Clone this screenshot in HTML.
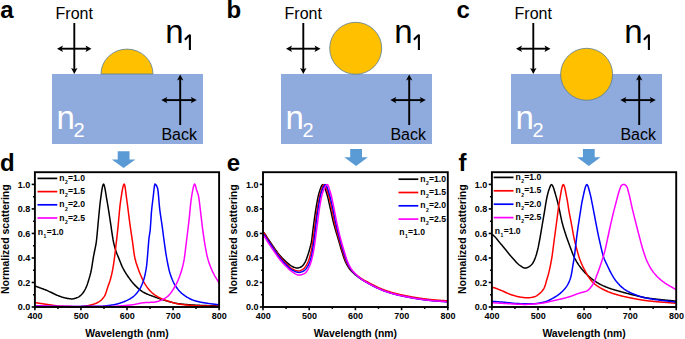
<!DOCTYPE html>
<html><head><meta charset="utf-8"><style>
html,body{margin:0;padding:0;background:#fff;}
svg{display:block;font-family:"Liberation Sans",sans-serif;}
</style></head><body>
<svg width="685" height="339" viewBox="0 0 685 339">
<rect width="685" height="339" fill="#fff"/>
<rect x="52.00" y="74" width="151" height="70" fill="#8FAADC"/><path d="M101.00,74 A26,24.9 0 0 1 153.00,74 Z" fill="#FFC000" stroke="#52789a" stroke-width="0.75"/><text x="55.60" y="18.6" font-size="16" fill="#000">Front</text><line x1="74.30" y1="23.00" x2="74.30" y2="69.80" stroke="#000" stroke-width="1.90"/><polygon points="74.30,74.00 71.10,68.00 74.30,69.32 77.50,68.00" fill="#000"/><line x1="61.20" y1="48.70" x2="87.30" y2="48.70" stroke="#000" stroke-width="1.90"/><polygon points="91.50,48.70 85.50,51.90 86.82,48.70 85.50,45.50" fill="#000"/><polygon points="57.00,48.70 63.00,51.90 61.68,48.70 63.00,45.50" fill="#000"/><line x1="180.20" y1="125.00" x2="180.20" y2="78.60" stroke="#000" stroke-width="1.90"/><polygon points="180.20,74.40 183.40,80.40 180.20,79.08 177.00,80.40" fill="#000"/><line x1="165.50" y1="100.10" x2="192.60" y2="100.10" stroke="#000" stroke-width="1.90"/><polygon points="196.80,100.10 190.80,103.30 192.12,100.10 190.80,96.90" fill="#000"/><polygon points="161.30,100.10 167.30,103.30 165.98,100.10 167.30,96.90" fill="#000"/><text x="161.40" y="139.6" font-size="16" fill="#000">Back</text><text x="165.30" y="42.7" font-size="33" fill="#000">n</text><path d="M184.90,39.8 L188.60,35.9 L189.90,35.3 L189.90,49.9" fill="none" stroke="#000" stroke-width="2.1" stroke-linejoin="round"/><text x="56.60" y="129.4" font-size="33" fill="#fff">n</text><text x="73.50" y="137" font-size="20" fill="#fff">2</text><rect x="281.00" y="74" width="151" height="70" fill="#8FAADC"/><circle cx="355.70" cy="48.3" r="26" fill="#FFC000" stroke="#52789a" stroke-width="0.75"/><text x="284.60" y="18.6" font-size="16" fill="#000">Front</text><line x1="303.30" y1="23.00" x2="303.30" y2="69.80" stroke="#000" stroke-width="1.90"/><polygon points="303.30,74.00 300.10,68.00 303.30,69.32 306.50,68.00" fill="#000"/><line x1="290.20" y1="48.70" x2="316.30" y2="48.70" stroke="#000" stroke-width="1.90"/><polygon points="320.50,48.70 314.50,51.90 315.82,48.70 314.50,45.50" fill="#000"/><polygon points="286.00,48.70 292.00,51.90 290.68,48.70 292.00,45.50" fill="#000"/><line x1="409.20" y1="125.00" x2="409.20" y2="78.60" stroke="#000" stroke-width="1.90"/><polygon points="409.20,74.40 412.40,80.40 409.20,79.08 406.00,80.40" fill="#000"/><line x1="394.50" y1="100.10" x2="421.60" y2="100.10" stroke="#000" stroke-width="1.90"/><polygon points="425.80,100.10 419.80,103.30 421.12,100.10 419.80,96.90" fill="#000"/><polygon points="390.30,100.10 396.30,103.30 394.98,100.10 396.30,96.90" fill="#000"/><text x="390.40" y="139.6" font-size="16" fill="#000">Back</text><text x="394.30" y="42.7" font-size="33" fill="#000">n</text><path d="M413.90,39.8 L417.60,35.9 L418.90,35.3 L418.90,49.9" fill="none" stroke="#000" stroke-width="2.1" stroke-linejoin="round"/><text x="285.60" y="129.4" font-size="33" fill="#fff">n</text><text x="302.50" y="137" font-size="20" fill="#fff">2</text><rect x="511.00" y="74" width="151" height="70" fill="#8FAADC"/><circle cx="586.60" cy="74.3" r="26" fill="#FFC000" stroke="#52789a" stroke-width="0.75"/><text x="514.60" y="18.6" font-size="16" fill="#000">Front</text><line x1="533.30" y1="23.00" x2="533.30" y2="69.80" stroke="#000" stroke-width="1.90"/><polygon points="533.30,74.00 530.10,68.00 533.30,69.32 536.50,68.00" fill="#000"/><line x1="520.20" y1="48.70" x2="546.30" y2="48.70" stroke="#000" stroke-width="1.90"/><polygon points="550.50,48.70 544.50,51.90 545.82,48.70 544.50,45.50" fill="#000"/><polygon points="516.00,48.70 522.00,51.90 520.68,48.70 522.00,45.50" fill="#000"/><line x1="639.20" y1="125.00" x2="639.20" y2="78.60" stroke="#000" stroke-width="1.90"/><polygon points="639.20,74.40 642.40,80.40 639.20,79.08 636.00,80.40" fill="#000"/><line x1="624.50" y1="100.10" x2="651.60" y2="100.10" stroke="#000" stroke-width="1.90"/><polygon points="655.80,100.10 649.80,103.30 651.12,100.10 649.80,96.90" fill="#000"/><polygon points="620.30,100.10 626.30,103.30 624.98,100.10 626.30,96.90" fill="#000"/><text x="620.40" y="139.6" font-size="16" fill="#000">Back</text><text x="624.30" y="42.7" font-size="33" fill="#000">n</text><path d="M643.90,39.8 L647.60,35.9 L648.90,35.3 L648.90,49.9" fill="none" stroke="#000" stroke-width="2.1" stroke-linejoin="round"/><text x="515.60" y="129.4" font-size="33" fill="#fff">n</text><text x="532.50" y="137" font-size="20" fill="#fff">2</text><polygon points="117.70,151.20 129.50,151.20 129.50,159.40 135.40,159.40 123.60,168.10 111.80,159.40 117.70,159.40" fill="#5B9BD5"/><polygon points="350.20,149.10 362.00,149.10 362.00,157.30 367.90,157.30 356.10,166.00 344.30,157.30 350.20,157.30" fill="#5B9BD5"/><polygon points="582.90,149.10 594.70,149.10 594.70,157.30 600.60,157.30 588.80,166.00 577.00,157.30 582.90,157.30" fill="#5B9BD5"/><clipPath id="c34"><rect x="34.90" y="172.20" width="184.20" height="135.80"/></clipPath><g clip-path="url(#c34)" fill="none" stroke-width="1.5" stroke-linejoin="round"><path d="M35.00,286.00 L35.51,286.19 L36.03,286.38 L36.54,286.57 L37.05,286.75 L37.57,286.94 L38.08,287.12 L38.60,287.31 L39.11,287.49 L39.62,287.68 L40.14,287.86 L40.65,288.05 L41.16,288.24 L41.68,288.42 L42.19,288.61 L42.70,288.80 L43.22,289.00 L43.73,289.19 L44.25,289.39 L44.76,289.59 L45.27,289.79 L45.79,289.99 L46.30,290.20 L46.81,290.41 L47.32,290.63 L47.82,290.85 L48.33,291.08 L48.84,291.32 L49.35,291.56 L49.85,291.80 L50.36,292.05 L50.87,292.29 L51.38,292.54 L51.88,292.79 L52.39,293.04 L52.90,293.29 L53.41,293.54 L53.92,293.79 L54.42,294.04 L54.93,294.28 L55.44,294.52 L55.95,294.75 L56.45,294.98 L56.96,295.20 L57.47,295.42 L57.98,295.62 L58.48,295.82 L58.99,296.02 L59.50,296.20 L60.03,296.39 L60.57,296.57 L61.10,296.76 L61.63,296.94 L62.17,297.11 L62.70,297.28 L63.23,297.44 L63.77,297.60 L64.30,297.74 L64.83,297.87 L65.37,297.99 L65.90,298.10 L66.44,298.20 L66.97,298.30 L67.51,298.40 L68.05,298.50 L68.58,298.59 L69.12,298.68 L69.65,298.75 L70.19,298.81 L70.73,298.86 L71.26,298.89 L71.80,298.90 L72.34,298.88 L72.87,298.83 L73.41,298.75 L73.95,298.65 L74.48,298.51 L75.02,298.36 L75.55,298.19 L76.09,298.01 L76.63,297.81 L77.16,297.61 L77.70,297.40 L78.22,297.16 L78.74,296.87 L79.27,296.52 L79.79,296.13 L80.31,295.69 L80.83,295.21 L81.36,294.70 L81.88,294.16 L82.40,293.60 L82.91,292.99 L83.43,292.30 L83.94,291.52 L84.46,290.67 L84.97,289.74 L85.49,288.75 L86.00,287.70 L86.58,286.36 L87.16,284.82 L87.74,283.12 L88.32,281.30 L88.90,279.40 L89.50,277.35 L90.10,275.15 L90.70,272.72 L91.30,270.00 L91.83,267.11 L92.35,263.74 L92.88,260.27 L93.40,257.10 L94.10,253.49 L94.80,250.00 L95.30,247.54 L95.80,245.04 L96.30,242.00 L96.80,237.76 L97.30,232.44 L97.80,226.72 L98.30,221.30 L98.83,215.80 L99.35,210.21 L99.88,205.01 L100.40,200.70 L100.92,196.94 L101.43,193.15 L101.95,189.66 L102.47,186.78 L102.98,184.82 L103.50,184.10 L104.00,184.69 L104.50,186.29 L105.00,188.65 L105.50,191.52 L106.00,194.66 L106.50,197.80 L107.00,200.70 L107.55,203.80 L108.10,207.13 L108.65,210.61 L109.20,214.17 L109.75,217.76 L110.30,221.30 L110.83,224.84 L111.37,228.56 L111.90,232.31 L112.43,235.91 L112.97,239.19 L113.50,242.00 L114.03,244.33 L114.55,246.42 L115.07,248.29 L115.60,250.00 L116.17,251.69 L116.73,253.23 L117.30,254.67 L117.87,256.05 L118.43,257.41 L119.00,258.80 L119.53,260.13 L120.06,261.48 L120.59,262.82 L121.11,264.14 L121.64,265.40 L122.17,266.60 L122.70,267.70 L123.23,268.73 L123.76,269.72 L124.29,270.67 L124.82,271.58 L125.35,272.46 L125.88,273.32 L126.41,274.14 L126.94,274.95 L127.47,275.73 L128.00,276.50 L128.51,277.23 L129.01,277.94 L129.52,278.65 L130.03,279.34 L130.54,280.03 L131.04,280.69 L131.55,281.35 L132.06,281.99 L132.56,282.61 L133.07,283.21 L133.58,283.79 L134.09,284.35 L134.59,284.89 L135.10,285.40 L135.62,285.91 L136.14,286.41 L136.65,286.90 L137.17,287.39 L137.69,287.86 L138.21,288.33 L138.72,288.78 L139.24,289.22 L139.76,289.64 L140.28,290.06 L140.79,290.46 L141.31,290.84 L141.83,291.21 L142.35,291.56 L142.86,291.89 L143.38,292.21 L143.90,292.50 L144.41,292.77 L144.92,293.04 L145.43,293.29 L145.94,293.54 L146.45,293.77 L146.96,294.00 L147.47,294.22 L147.98,294.43 L148.49,294.64 L149.00,294.84 L149.50,295.04 L150.01,295.23 L150.52,295.42 L151.03,295.61 L151.54,295.79 L152.05,295.98 L152.56,296.16 L153.07,296.34 L153.58,296.53 L154.09,296.71 L154.60,296.90 L155.12,297.09 L155.64,297.28 L156.16,297.47 L156.68,297.66 L157.20,297.85 L157.72,298.04 L158.24,298.22 L158.76,298.40 L159.28,298.59 L159.80,298.76 L160.32,298.94 L160.84,299.11 L161.36,299.29 L161.88,299.45 L162.40,299.62 L162.92,299.78 L163.44,299.94 L163.96,300.10 L164.48,300.25 L165.00,300.40 L165.51,300.54 L166.01,300.69 L166.52,300.83 L167.03,300.98 L167.54,301.12 L168.04,301.27 L168.55,301.41 L169.06,301.56 L169.56,301.70 L170.07,301.84 L170.58,301.98 L171.09,302.12 L171.59,302.25 L172.10,302.39 L172.61,302.52 L173.11,302.64 L173.62,302.77 L174.13,302.88 L174.64,303.00 L175.14,303.11 L175.65,303.22 L176.16,303.32 L176.66,303.41 L177.17,303.50 L177.68,303.59 L178.19,303.66 L178.69,303.74 L179.20,303.80 L179.71,303.86 L180.21,303.92 L180.72,303.98 L181.22,304.03 L181.73,304.09 L182.23,304.14 L182.74,304.19 L183.24,304.24 L183.75,304.29 L184.25,304.34 L184.76,304.39 L185.26,304.44 L185.77,304.48 L186.27,304.52 L186.78,304.57 L187.28,304.61 L187.79,304.65 L188.29,304.69 L188.80,304.73 L189.31,304.77 L189.81,304.80 L190.32,304.84 L190.82,304.87 L191.33,304.91 L191.83,304.94 L192.34,304.97 L192.84,305.00 L193.35,305.03 L193.85,305.06 L194.36,305.09 L194.86,305.12 L195.37,305.15 L195.87,305.17 L196.38,305.20 L196.88,305.23 L197.39,305.25 L197.89,305.28 L198.40,305.30 L198.90,305.32 L199.40,305.35 L199.91,305.37 L200.41,305.39 L200.91,305.41 L201.41,305.43 L201.92,305.45 L202.42,305.47 L202.92,305.49 L203.42,305.51 L203.93,305.52 L204.43,305.54 L204.93,305.56 L205.43,305.58 L205.94,305.59 L206.44,305.61 L206.94,305.62 L207.44,305.64 L207.95,305.66 L208.45,305.67 L208.95,305.69 L209.45,305.70 L209.95,305.72 L210.46,305.73 L210.96,305.74 L211.46,305.76 L211.96,305.77 L212.47,305.79 L212.97,305.80 L213.47,305.82 L213.97,305.83 L214.48,305.85 L214.98,305.86 L215.48,305.88 L215.98,305.89 L216.49,305.91 L216.99,305.92 L217.49,305.94 L217.99,305.95 L218.50,305.97 L219.00,305.98 L219.50,306.00" stroke="#000"/><path d="M35.00,302.60 L35.50,302.68 L36.01,302.75 L36.51,302.83 L37.02,302.91 L37.52,302.99 L38.02,303.06 L38.53,303.14 L39.03,303.22 L39.54,303.30 L40.04,303.38 L40.54,303.46 L41.05,303.53 L41.55,303.61 L42.06,303.69 L42.56,303.77 L43.06,303.84 L43.57,303.92 L44.07,304.00 L44.58,304.07 L45.08,304.14 L45.58,304.22 L46.09,304.29 L46.59,304.36 L47.10,304.43 L47.60,304.50 L48.10,304.57 L48.61,304.64 L49.11,304.71 L49.61,304.79 L50.12,304.86 L50.62,304.94 L51.12,305.01 L51.63,305.09 L52.13,305.17 L52.63,305.24 L53.14,305.32 L53.64,305.39 L54.14,305.47 L54.65,305.54 L55.15,305.61 L55.66,305.68 L56.16,305.75 L56.66,305.81 L57.17,305.88 L57.67,305.93 L58.17,305.99 L58.68,306.04 L59.18,306.09 L59.68,306.14 L60.19,306.18 L60.69,306.22 L61.19,306.25 L61.70,306.28 L62.20,306.30 L62.70,306.32 L63.20,306.34 L63.70,306.36 L64.20,306.38 L64.70,306.39 L65.20,306.41 L65.70,306.43 L66.20,306.45 L66.70,306.46 L67.20,306.48 L67.70,306.50 L68.20,306.51 L68.70,306.53 L69.20,306.54 L69.70,306.55 L70.20,306.57 L70.70,306.58 L71.20,306.59 L71.70,306.60 L72.20,306.61 L72.70,306.63 L73.20,306.64 L73.70,306.64 L74.20,306.65 L74.70,306.66 L75.20,306.67 L75.70,306.67 L76.20,306.68 L76.70,306.69 L77.20,306.69 L77.70,306.69 L78.20,306.70 L78.70,306.70 L79.20,306.70 L79.70,306.70 L80.21,306.69 L80.72,306.68 L81.23,306.65 L81.73,306.62 L82.24,306.57 L82.75,306.52 L83.26,306.46 L83.77,306.39 L84.28,306.31 L84.79,306.23 L85.30,306.14 L85.80,306.05 L86.31,305.95 L86.82,305.85 L87.33,305.74 L87.84,305.63 L88.35,305.52 L88.86,305.40 L89.37,305.28 L89.87,305.16 L90.38,305.04 L90.89,304.92 L91.40,304.80 L91.92,304.67 L92.44,304.53 L92.96,304.38 L93.49,304.22 L94.01,304.04 L94.53,303.86 L95.05,303.66 L95.57,303.45 L96.09,303.23 L96.61,302.99 L97.14,302.74 L97.66,302.47 L98.18,302.19 L98.70,301.90 L99.23,301.58 L99.75,301.23 L100.28,300.84 L100.81,300.41 L101.34,299.94 L101.86,299.42 L102.39,298.86 L102.92,298.25 L103.45,297.59 L103.97,296.87 L104.50,296.10 L105.00,295.18 L105.50,294.01 L106.00,292.63 L106.50,291.13 L107.00,289.56 L107.50,287.99 L108.00,286.50 L108.50,285.08 L109.00,283.68 L109.50,282.23 L110.00,280.69 L110.50,279.00 L111.03,277.06 L111.55,274.93 L112.07,272.59 L112.60,270.00 L113.10,267.21 L113.60,264.07 L114.10,260.64 L114.60,257.00 L115.30,251.21 L116.00,245.00 L116.60,239.84 L117.20,234.64 L117.80,229.20 L118.32,223.88 L118.84,218.04 L119.36,212.22 L119.88,206.93 L120.40,202.70 L120.94,198.97 L121.49,195.27 L122.03,191.78 L122.57,188.72 L123.11,186.29 L123.66,184.68 L124.20,184.10 L124.72,185.18 L125.24,187.99 L125.76,191.84 L126.28,196.07 L126.80,200.00 L127.50,205.15 L128.20,210.60 L128.80,215.34 L129.40,220.14 L130.00,224.70 L130.53,228.37 L131.05,231.86 L131.57,235.30 L132.10,238.80 L132.64,242.70 L133.18,246.82 L133.72,250.87 L134.26,254.53 L134.80,257.50 L135.40,260.06 L136.00,262.23 L136.60,264.16 L137.20,266.00 L137.73,267.59 L138.27,269.10 L138.80,270.54 L139.33,271.92 L139.87,273.24 L140.40,274.50 L140.93,275.72 L141.46,276.93 L141.99,278.12 L142.52,279.28 L143.05,280.40 L143.58,281.48 L144.11,282.50 L144.64,283.47 L145.17,284.37 L145.70,285.20 L146.21,285.94 L146.71,286.66 L147.22,287.36 L147.73,288.04 L148.24,288.68 L148.74,289.31 L149.25,289.91 L149.76,290.49 L150.26,291.04 L150.77,291.56 L151.28,292.06 L151.79,292.53 L152.29,292.98 L152.80,293.40 L153.32,293.81 L153.84,294.20 L154.35,294.58 L154.87,294.94 L155.39,295.30 L155.91,295.64 L156.42,295.96 L156.94,296.28 L157.46,296.59 L157.98,296.88 L158.49,297.17 L159.01,297.44 L159.53,297.71 L160.05,297.97 L160.56,298.22 L161.08,298.46 L161.60,298.70 L162.10,298.92 L162.60,299.14 L163.10,299.34 L163.60,299.55 L164.10,299.74 L164.60,299.93 L165.10,300.12 L165.60,300.30 L166.10,300.47 L166.60,300.64 L167.10,300.81 L167.60,300.97 L168.10,301.13 L168.60,301.29 L169.10,301.45 L169.60,301.60 L170.11,301.75 L170.61,301.91 L171.12,302.07 L171.62,302.22 L172.13,302.38 L172.63,302.53 L173.14,302.68 L173.64,302.83 L174.15,302.98 L174.65,303.12 L175.16,303.25 L175.66,303.39 L176.17,303.51 L176.67,303.63 L177.18,303.74 L177.68,303.84 L178.19,303.94 L178.69,304.02 L179.20,304.10 L179.71,304.17 L180.21,304.24 L180.72,304.31 L181.22,304.37 L181.73,304.44 L182.23,304.50 L182.74,304.56 L183.24,304.62 L183.75,304.68 L184.25,304.74 L184.76,304.79 L185.26,304.85 L185.77,304.90 L186.27,304.95 L186.78,305.01 L187.28,305.05 L187.79,305.10 L188.29,305.15 L188.80,305.19 L189.31,305.24 L189.81,305.28 L190.32,305.32 L190.82,305.36 L191.33,305.40 L191.83,305.44 L192.34,305.47 L192.84,305.51 L193.35,305.54 L193.85,305.57 L194.36,305.60 L194.86,305.63 L195.37,305.66 L195.87,305.69 L196.38,305.71 L196.88,305.74 L197.39,305.76 L197.89,305.78 L198.40,305.80 L198.90,305.82 L199.40,305.84 L199.91,305.85 L200.41,305.87 L200.91,305.89 L201.41,305.90 L201.92,305.92 L202.42,305.93 L202.92,305.95 L203.42,305.96 L203.93,305.97 L204.43,305.99 L204.93,306.00 L205.43,306.01 L205.94,306.02 L206.44,306.03 L206.94,306.04 L207.44,306.06 L207.95,306.07 L208.45,306.08 L208.95,306.09 L209.45,306.10 L209.95,306.11 L210.46,306.12 L210.96,306.13 L211.46,306.14 L211.96,306.15 L212.47,306.16 L212.97,306.16 L213.47,306.17 L213.97,306.18 L214.48,306.19 L214.98,306.20 L215.48,306.21 L215.98,306.22 L216.49,306.23 L216.99,306.24 L217.49,306.25 L217.99,306.27 L218.50,306.28 L219.00,306.29 L219.50,306.30" stroke="#f00"/><path d="M35.00,305.60 L35.50,305.62 L36.00,305.63 L36.50,305.65 L37.00,305.67 L37.50,305.69 L38.00,305.71 L38.50,305.73 L39.00,305.75 L39.50,305.77 L40.00,305.79 L40.50,305.81 L41.00,305.83 L41.50,305.85 L42.00,305.87 L42.50,305.89 L43.00,305.91 L43.50,305.93 L44.00,305.95 L44.50,305.98 L45.00,306.00 L45.50,306.02 L46.00,306.04 L46.50,306.06 L47.00,306.08 L47.50,306.10 L48.00,306.12 L48.50,306.14 L49.00,306.16 L49.50,306.18 L50.00,306.20 L50.50,306.21 L51.00,306.23 L51.50,306.25 L52.00,306.26 L52.50,306.28 L53.00,306.29 L53.50,306.31 L54.00,306.32 L54.50,306.33 L55.00,306.34 L55.50,306.35 L56.00,306.36 L56.50,306.37 L57.00,306.38 L57.50,306.38 L58.00,306.39 L58.50,306.39 L59.00,306.40 L59.50,306.40 L60.00,306.40 L60.50,306.40 L61.01,306.40 L61.51,306.40 L62.01,306.40 L62.51,306.40 L63.02,306.40 L63.52,306.40 L64.02,306.40 L64.52,306.40 L65.03,306.40 L65.53,306.40 L66.03,306.40 L66.53,306.40 L67.04,306.40 L67.54,306.40 L68.04,306.40 L68.54,306.40 L69.05,306.40 L69.55,306.40 L70.05,306.39 L70.55,306.39 L71.06,306.39 L71.56,306.39 L72.06,306.39 L72.56,306.39 L73.07,306.39 L73.57,306.39 L74.07,306.39 L74.58,306.39 L75.08,306.39 L75.58,306.39 L76.08,306.39 L76.59,306.38 L77.09,306.38 L77.59,306.38 L78.09,306.38 L78.60,306.38 L79.10,306.38 L79.60,306.38 L80.10,306.38 L80.61,306.38 L81.11,306.37 L81.61,306.37 L82.11,306.37 L82.62,306.37 L83.12,306.37 L83.62,306.37 L84.12,306.37 L84.63,306.36 L85.13,306.36 L85.63,306.36 L86.14,306.36 L86.64,306.36 L87.14,306.35 L87.64,306.35 L88.15,306.35 L88.65,306.35 L89.15,306.35 L89.65,306.35 L90.16,306.34 L90.66,306.34 L91.16,306.34 L91.66,306.34 L92.17,306.33 L92.67,306.33 L93.17,306.33 L93.67,306.33 L94.18,306.32 L94.68,306.32 L95.18,306.32 L95.68,306.32 L96.19,306.31 L96.69,306.31 L97.19,306.31 L97.69,306.31 L98.20,306.30 L98.70,306.30 L99.20,306.29 L99.71,306.28 L100.21,306.27 L100.71,306.25 L101.22,306.23 L101.72,306.20 L102.22,306.17 L102.73,306.13 L103.23,306.09 L103.73,306.05 L104.24,306.01 L104.74,305.96 L105.24,305.91 L105.75,305.85 L106.25,305.79 L106.76,305.73 L107.26,305.67 L107.76,305.61 L108.27,305.54 L108.77,305.47 L109.27,305.40 L109.78,305.33 L110.28,305.26 L110.78,305.18 L111.29,305.11 L111.79,305.03 L112.29,304.96 L112.80,304.88 L113.30,304.80 L113.81,304.72 L114.32,304.62 L114.83,304.52 L115.34,304.42 L115.85,304.30 L116.36,304.18 L116.87,304.05 L117.38,303.92 L117.89,303.78 L118.40,303.63 L118.91,303.47 L119.42,303.32 L119.93,303.15 L120.44,302.99 L120.95,302.81 L121.46,302.64 L121.97,302.46 L122.48,302.28 L122.99,302.09 L123.50,301.90 L124.00,301.71 L124.50,301.51 L125.00,301.31 L125.50,301.10 L126.00,300.88 L126.50,300.65 L127.00,300.42 L127.50,300.17 L128.00,299.92 L128.50,299.65 L129.00,299.38 L129.50,299.10 L130.00,298.80 L130.50,298.50 L131.00,298.18 L131.50,297.85 L132.00,297.52 L132.50,297.16 L133.00,296.80 L133.51,296.41 L134.02,295.98 L134.53,295.52 L135.04,295.03 L135.55,294.50 L136.05,293.95 L136.56,293.36 L137.07,292.74 L137.58,292.09 L138.09,291.41 L138.60,290.70 L139.15,289.89 L139.70,289.02 L140.25,288.08 L140.80,287.05 L141.35,285.93 L141.90,284.71 L142.45,283.37 L143.00,281.90 L143.51,280.39 L144.03,278.69 L144.54,276.77 L145.06,274.58 L145.57,272.07 L146.09,269.19 L146.60,265.90 L147.30,258.80 L148.00,250.00 L148.50,243.59 L149.00,238.00 L149.60,234.23 L150.20,230.30 L150.80,221.79 L151.40,212.60 L152.03,206.27 L152.67,200.99 L153.30,196.00 L153.83,191.01 L154.37,186.24 L154.90,184.10 L155.44,184.30 L155.98,184.86 L156.52,185.74 L157.06,186.90 L157.60,188.30 L158.12,191.57 L158.65,197.28 L159.17,203.71 L159.70,209.10 L160.27,213.45 L160.85,217.32 L161.43,221.06 L162.00,225.00 L162.53,228.92 L163.05,232.97 L163.57,237.01 L164.10,240.90 L164.68,245.05 L165.25,249.15 L165.82,253.02 L166.40,256.50 L166.91,259.35 L167.43,262.11 L167.94,264.75 L168.46,267.22 L168.97,269.49 L169.49,271.53 L170.00,273.30 L170.54,274.95 L171.08,276.50 L171.62,277.95 L172.16,279.31 L172.70,280.58 L173.24,281.77 L173.78,282.87 L174.32,283.89 L174.86,284.83 L175.40,285.70 L175.93,286.50 L176.45,287.26 L176.98,288.00 L177.51,288.71 L178.03,289.38 L178.56,290.03 L179.09,290.65 L179.61,291.24 L180.14,291.80 L180.67,292.33 L181.19,292.84 L181.72,293.32 L182.25,293.77 L182.77,294.20 L183.30,294.60 L183.81,294.97 L184.32,295.33 L184.83,295.69 L185.33,296.04 L185.84,296.37 L186.35,296.70 L186.86,297.02 L187.37,297.34 L187.88,297.64 L188.39,297.93 L188.90,298.21 L189.40,298.49 L189.91,298.75 L190.42,299.00 L190.93,299.25 L191.44,299.48 L191.95,299.70 L192.46,299.91 L192.97,300.11 L193.47,300.30 L193.98,300.48 L194.49,300.65 L195.00,300.80 L195.50,300.94 L196.00,301.08 L196.50,301.22 L197.00,301.35 L197.50,301.47 L198.00,301.59 L198.50,301.71 L199.00,301.82 L199.50,301.93 L200.00,302.03 L200.50,302.14 L201.00,302.23 L201.50,302.33 L202.00,302.42 L202.50,302.51 L203.00,302.60 L203.50,302.69 L204.00,302.77 L204.50,302.86 L205.00,302.94 L205.50,303.02 L206.00,303.09 L206.50,303.17 L207.00,303.25 L207.50,303.32 L208.00,303.40 L208.50,303.47 L209.00,303.55 L209.50,303.62 L210.00,303.68 L210.50,303.75 L211.00,303.81 L211.50,303.87 L212.00,303.94 L212.50,304.00 L213.00,304.05 L213.50,304.11 L214.00,304.17 L214.50,304.23 L215.00,304.28 L215.50,304.34 L216.00,304.40 L216.50,304.45 L217.00,304.51 L217.50,304.56 L218.00,304.62 L218.50,304.68 L219.00,304.74 L219.50,304.80" stroke="#00f"/><path d="M35.00,306.00 L35.50,306.00 L36.00,306.01 L36.50,306.01 L37.00,306.02 L37.50,306.02 L38.00,306.03 L38.50,306.03 L39.00,306.04 L39.50,306.04 L40.00,306.05 L40.50,306.05 L41.00,306.06 L41.50,306.06 L42.00,306.07 L42.50,306.07 L43.00,306.08 L43.50,306.08 L44.00,306.09 L44.50,306.09 L45.00,306.10 L45.50,306.10 L46.00,306.11 L46.50,306.11 L47.00,306.12 L47.50,306.12 L48.00,306.13 L48.50,306.13 L49.00,306.14 L49.50,306.14 L50.00,306.15 L50.50,306.16 L51.00,306.16 L51.50,306.17 L52.00,306.17 L52.50,306.18 L53.00,306.18 L53.50,306.19 L54.00,306.20 L54.50,306.20 L55.00,306.21 L55.50,306.21 L56.00,306.22 L56.50,306.22 L57.00,306.23 L57.50,306.23 L58.00,306.24 L58.50,306.25 L59.00,306.25 L59.50,306.26 L60.00,306.26 L60.50,306.27 L61.00,306.27 L61.50,306.28 L62.00,306.29 L62.50,306.29 L63.00,306.30 L63.50,306.30 L64.00,306.31 L64.50,306.31 L65.00,306.32 L65.50,306.33 L66.00,306.33 L66.50,306.34 L67.00,306.34 L67.50,306.35 L68.00,306.35 L68.50,306.36 L69.00,306.36 L69.50,306.37 L70.00,306.38 L70.50,306.38 L71.00,306.39 L71.50,306.39 L72.00,306.40 L72.50,306.40 L73.00,306.41 L73.50,306.41 L74.00,306.42 L74.50,306.42 L75.00,306.43 L75.50,306.43 L76.00,306.44 L76.50,306.44 L77.00,306.45 L77.50,306.45 L78.00,306.46 L78.50,306.46 L79.00,306.47 L79.50,306.47 L80.00,306.47 L80.50,306.48 L81.00,306.48 L81.50,306.49 L82.00,306.49 L82.50,306.50 L83.00,306.50 L83.50,306.50 L84.00,306.51 L84.50,306.51 L85.00,306.52 L85.50,306.52 L86.00,306.52 L86.50,306.53 L87.00,306.53 L87.50,306.53 L88.00,306.54 L88.50,306.54 L89.00,306.54 L89.50,306.55 L90.00,306.55 L90.50,306.55 L91.00,306.56 L91.50,306.56 L92.00,306.56 L92.50,306.57 L93.00,306.57 L93.50,306.57 L94.00,306.57 L94.50,306.58 L95.00,306.58 L95.50,306.58 L96.00,306.58 L96.50,306.58 L97.00,306.59 L97.50,306.59 L98.00,306.59 L98.50,306.59 L99.00,306.59 L99.50,306.59 L100.00,306.59 L100.50,306.60 L101.00,306.60 L101.50,306.60 L102.00,306.60 L102.50,306.60 L103.00,306.60 L103.50,306.60 L104.00,306.60 L104.50,306.60 L105.00,306.60 L105.50,306.60 L106.00,306.60 L106.50,306.59 L107.00,306.59 L107.50,306.58 L108.00,306.57 L108.50,306.56 L109.00,306.55 L109.50,306.53 L110.00,306.52 L110.50,306.50 L111.00,306.48 L111.50,306.46 L112.00,306.44 L112.50,306.42 L113.00,306.40 L113.50,306.37 L114.00,306.35 L114.50,306.32 L115.00,306.29 L115.50,306.26 L116.00,306.23 L116.50,306.20 L117.00,306.17 L117.50,306.13 L118.00,306.10 L118.50,306.06 L119.00,306.03 L119.50,305.99 L120.00,305.95 L120.50,305.91 L121.00,305.87 L121.50,305.83 L122.00,305.79 L122.50,305.75 L123.00,305.70 L123.50,305.66 L124.00,305.62 L124.50,305.57 L125.00,305.53 L125.50,305.48 L126.00,305.43 L126.50,305.39 L127.00,305.34 L127.50,305.29 L128.00,305.24 L128.50,305.20 L129.00,305.15 L129.50,305.10 L130.00,305.05 L130.50,305.00 L131.00,304.95 L131.50,304.90 L132.02,304.84 L132.53,304.78 L133.05,304.70 L133.57,304.62 L134.08,304.53 L134.60,304.43 L135.12,304.33 L135.63,304.22 L136.15,304.11 L136.67,304.00 L137.18,303.89 L137.70,303.78 L138.22,303.66 L138.73,303.55 L139.25,303.44 L139.77,303.33 L140.28,303.23 L140.80,303.13 L141.32,303.04 L141.83,302.96 L142.35,302.88 L142.87,302.81 L143.38,302.75 L143.90,302.70 L144.41,302.66 L144.92,302.62 L145.43,302.59 L145.94,302.56 L146.45,302.54 L146.96,302.51 L147.47,302.49 L147.98,302.47 L148.49,302.45 L149.00,302.43 L149.50,302.41 L150.01,302.39 L150.52,302.37 L151.03,302.35 L151.54,302.32 L152.05,302.30 L152.56,302.26 L153.07,302.23 L153.58,302.19 L154.09,302.15 L154.60,302.10 L155.15,302.03 L155.70,301.93 L156.25,301.81 L156.80,301.68 L157.35,301.52 L157.90,301.35 L158.45,301.18 L159.00,301.00 L159.53,300.82 L160.05,300.63 L160.57,300.43 L161.10,300.21 L161.62,299.98 L162.15,299.74 L162.68,299.48 L163.20,299.21 L163.72,298.93 L164.25,298.63 L164.78,298.31 L165.30,297.98 L165.83,297.64 L166.35,297.27 L166.88,296.90 L167.40,296.50 L167.90,296.09 L168.40,295.64 L168.90,295.14 L169.40,294.60 L169.90,294.02 L170.40,293.41 L170.90,292.76 L171.40,292.07 L171.90,291.36 L172.40,290.62 L172.90,289.85 L173.40,289.06 L173.90,288.25 L174.40,287.41 L174.90,286.57 L175.40,285.70 L175.93,284.75 L176.46,283.74 L176.99,282.67 L177.52,281.54 L178.05,280.34 L178.58,279.08 L179.11,277.74 L179.64,276.34 L180.17,274.86 L180.70,273.30 L181.20,271.75 L181.70,270.09 L182.20,268.30 L182.70,266.35 L183.20,264.20 L183.70,261.83 L184.20,259.20 L184.80,255.11 L185.40,250.08 L186.00,245.00 L186.58,240.36 L187.16,235.72 L187.74,231.02 L188.32,226.23 L188.90,221.30 L189.44,216.22 L189.98,210.66 L190.52,205.17 L191.06,200.27 L191.60,196.50 L192.12,193.56 L192.63,190.70 L193.15,188.12 L193.67,186.02 L194.18,184.61 L194.70,184.10 L195.33,185.19 L195.97,187.59 L196.60,190.00 L197.23,191.81 L197.87,193.63 L198.50,196.00 L199.00,198.88 L199.50,202.72 L200.00,207.00 L200.50,211.20 L201.03,215.57 L201.55,220.12 L202.07,224.62 L202.60,228.80 L203.20,233.20 L203.80,237.38 L204.40,241.33 L205.00,245.00 L205.50,247.90 L206.00,250.67 L206.50,253.22 L207.00,255.50 L207.53,257.62 L208.05,259.54 L208.57,261.30 L209.10,262.90 L209.65,264.47 L210.20,265.96 L210.75,267.37 L211.30,268.72 L211.85,270.00 L212.40,271.22 L212.95,272.38 L213.50,273.50 L214.03,274.53 L214.56,275.51 L215.09,276.44 L215.62,277.34 L216.15,278.22 L216.68,279.07 L217.21,279.90 L217.74,280.73 L218.27,281.56 L218.80,282.40 L219.37,283.28 L219.93,284.14 L220.50,285.00" stroke="#f0f"/></g><rect x="34.90" y="172.20" width="184.20" height="134.80" fill="none" stroke="#000" stroke-width="1.9"/><line x1="31.70" y1="307.00" x2="34.90" y2="307.00" stroke="#000" stroke-width="1.6"/><text x="30.30" y="310.20" font-size="9" font-weight="bold" text-anchor="end">0.0</text><line x1="33.00" y1="294.74" x2="34.90" y2="294.74" stroke="#000" stroke-width="1.5"/><line x1="31.70" y1="282.48" x2="34.90" y2="282.48" stroke="#000" stroke-width="1.6"/><text x="30.30" y="285.68" font-size="9" font-weight="bold" text-anchor="end">0.2</text><line x1="33.00" y1="270.22" x2="34.90" y2="270.22" stroke="#000" stroke-width="1.5"/><line x1="31.70" y1="257.96" x2="34.90" y2="257.96" stroke="#000" stroke-width="1.6"/><text x="30.30" y="261.16" font-size="9" font-weight="bold" text-anchor="end">0.4</text><line x1="33.00" y1="245.70" x2="34.90" y2="245.70" stroke="#000" stroke-width="1.5"/><line x1="31.70" y1="233.44" x2="34.90" y2="233.44" stroke="#000" stroke-width="1.6"/><text x="30.30" y="236.64" font-size="9" font-weight="bold" text-anchor="end">0.6</text><line x1="33.00" y1="221.18" x2="34.90" y2="221.18" stroke="#000" stroke-width="1.5"/><line x1="31.70" y1="208.92" x2="34.90" y2="208.92" stroke="#000" stroke-width="1.6"/><text x="30.30" y="212.12" font-size="9" font-weight="bold" text-anchor="end">0.8</text><line x1="33.00" y1="196.66" x2="34.90" y2="196.66" stroke="#000" stroke-width="1.5"/><line x1="31.70" y1="184.40" x2="34.90" y2="184.40" stroke="#000" stroke-width="1.6"/><text x="30.30" y="187.60" font-size="9" font-weight="bold" text-anchor="end">1.0</text><line x1="34.90" y1="307.00" x2="34.90" y2="310.20" stroke="#000" stroke-width="1.6"/><text x="35.10" y="319.20" font-size="9" font-weight="bold" text-anchor="middle">400</text><line x1="57.92" y1="307.00" x2="57.92" y2="308.90" stroke="#000" stroke-width="1.5"/><line x1="80.95" y1="307.00" x2="80.95" y2="310.20" stroke="#000" stroke-width="1.6"/><text x="81.15" y="319.20" font-size="9" font-weight="bold" text-anchor="middle">500</text><line x1="103.97" y1="307.00" x2="103.97" y2="308.90" stroke="#000" stroke-width="1.5"/><line x1="127.00" y1="307.00" x2="127.00" y2="310.20" stroke="#000" stroke-width="1.6"/><text x="127.20" y="319.20" font-size="9" font-weight="bold" text-anchor="middle">600</text><line x1="150.02" y1="307.00" x2="150.02" y2="308.90" stroke="#000" stroke-width="1.5"/><line x1="173.05" y1="307.00" x2="173.05" y2="310.20" stroke="#000" stroke-width="1.6"/><text x="173.25" y="319.20" font-size="9" font-weight="bold" text-anchor="middle">700</text><line x1="196.07" y1="307.00" x2="196.07" y2="308.90" stroke="#000" stroke-width="1.5"/><line x1="219.10" y1="307.00" x2="219.10" y2="310.20" stroke="#000" stroke-width="1.6"/><text x="219.30" y="319.20" font-size="9" font-weight="bold" text-anchor="middle">800</text><text x="127.00" y="336.6" font-size="10.4" font-weight="bold" text-anchor="middle">Wavelength (nm)</text><text transform="translate(8.70,239.2) rotate(-90)" font-size="10.5" font-weight="bold" text-anchor="middle">Normalized scattering</text><line x1="37.50" y1="178.40" x2="57.30" y2="178.40" stroke="#000" stroke-width="1.7"/><text x="59.20" y="181.00" font-size="8.6" font-weight="bold">n<tspan font-size="5" dx="0.5" dy="3.2">2</tspan><tspan dx="0.3" dy="-3.2">=1.0</tspan></text><line x1="37.50" y1="191.60" x2="57.30" y2="191.60" stroke="#f00" stroke-width="1.7"/><text x="59.20" y="194.20" font-size="8.6" font-weight="bold">n<tspan font-size="5" dx="0.5" dy="3.2">2</tspan><tspan dx="0.3" dy="-3.2">=1.5</tspan></text><line x1="37.50" y1="204.80" x2="57.30" y2="204.80" stroke="#00f" stroke-width="1.7"/><text x="59.20" y="207.40" font-size="8.6" font-weight="bold">n<tspan font-size="5" dx="0.5" dy="3.2">2</tspan><tspan dx="0.3" dy="-3.2">=2.0</tspan></text><line x1="37.50" y1="218.00" x2="57.30" y2="218.00" stroke="#f0f" stroke-width="1.7"/><text x="59.20" y="220.60" font-size="8.6" font-weight="bold">n<tspan font-size="5" dx="0.5" dy="3.2">2</tspan><tspan dx="0.3" dy="-3.2">=2.5</tspan></text><text x="37.80" y="234.80" font-size="8.6" font-weight="bold">n<tspan font-size="5" dx="0.5" dy="3.2">1</tspan><tspan dx="0.3" dy="-3.2">=1.0</tspan></text><clipPath id="c263"><rect x="263.00" y="172.20" width="184.80" height="135.80"/></clipPath><g clip-path="url(#c263)" fill="none" stroke-width="1.5" stroke-linejoin="round"><path d="M262.00,231.50 L262.60,231.77 L263.20,232.10 L263.71,232.51 L264.22,233.03 L264.73,233.66 L265.24,234.37 L265.75,235.13 L266.25,235.95 L266.76,236.78 L267.27,237.63 L267.78,238.46 L268.29,239.25 L268.80,240.00 L269.31,240.72 L269.82,241.45 L270.33,242.18 L270.84,242.92 L271.35,243.67 L271.85,244.42 L272.36,245.17 L272.87,245.92 L273.38,246.67 L273.89,247.42 L274.40,248.16 L274.91,248.90 L275.42,249.63 L275.93,250.35 L276.44,251.05 L276.95,251.75 L277.45,252.44 L277.96,253.10 L278.47,253.76 L278.98,254.39 L279.49,255.01 L280.00,255.60 L280.54,256.21 L281.07,256.79 L281.61,257.37 L282.15,257.93 L282.68,258.47 L283.22,259.00 L283.75,259.52 L284.29,260.03 L284.83,260.53 L285.36,261.02 L285.90,261.50 L286.44,261.98 L286.97,262.47 L287.51,262.96 L288.05,263.45 L288.58,263.92 L289.12,264.38 L289.65,264.82 L290.19,265.22 L290.73,265.59 L291.26,265.92 L291.80,266.20 L292.33,266.45 L292.86,266.71 L293.39,266.96 L293.92,267.19 L294.45,267.41 L294.98,267.61 L295.51,267.77 L296.04,267.89 L296.57,267.97 L297.10,268.00 L297.61,267.97 L298.12,267.90 L298.64,267.79 L299.15,267.64 L299.66,267.46 L300.18,267.26 L300.69,267.04 L301.20,266.80 L301.71,266.49 L302.23,266.07 L302.74,265.54 L303.26,264.93 L303.77,264.24 L304.29,263.49 L304.80,262.70 L305.38,261.64 L305.96,260.34 L306.54,258.86 L307.12,257.26 L307.70,255.60 L308.30,253.76 L308.90,251.74 L309.50,249.60 L310.10,247.40 L310.70,245.26 L311.30,242.70 L311.93,238.50 L312.57,233.18 L313.20,228.00 L313.78,223.65 L314.36,219.30 L314.94,215.07 L315.52,211.09 L316.10,207.50 L316.60,204.61 L317.10,201.80 L317.60,199.14 L318.10,196.70 L318.60,194.56 L319.10,192.80 L319.63,191.14 L320.16,189.51 L320.69,187.97 L321.21,186.63 L321.74,185.56 L322.27,184.85 L322.80,184.60 L323.33,184.87 L323.86,185.60 L324.39,186.71 L324.91,188.08 L325.44,189.62 L325.97,191.23 L326.50,192.80 L327.01,194.43 L327.53,196.33 L328.04,198.42 L328.56,200.65 L329.07,202.94 L329.59,205.25 L330.10,207.50 L330.65,209.93 L331.20,212.46 L331.75,215.04 L332.30,217.58 L332.85,220.02 L333.40,222.30 L333.91,224.27 L334.42,226.16 L334.93,227.98 L335.44,229.75 L335.95,231.47 L336.46,233.17 L336.97,234.86 L337.48,236.56 L337.99,238.26 L338.50,240.00 L339.02,241.79 L339.53,243.60 L340.05,245.40 L340.57,247.18 L341.08,248.92 L341.60,250.60 L342.11,252.24 L342.62,253.90 L343.13,255.53 L343.64,257.11 L344.16,258.60 L344.67,259.98 L345.18,261.20 L345.73,262.40 L346.29,263.54 L346.85,264.61 L347.40,265.61 L347.96,266.55 L348.52,267.43 L349.07,268.25 L349.63,269.00 L350.16,269.67 L350.69,270.29 L351.22,270.88 L351.75,271.43 L352.28,271.96 L352.81,272.46 L353.34,272.95 L353.87,273.43 L354.40,273.90 L354.93,274.36 L355.46,274.82 L355.99,275.26 L356.52,275.70 L357.05,276.12 L357.58,276.53 L358.11,276.94 L358.64,277.33 L359.17,277.71 L359.70,278.08 L360.23,278.45 L360.76,278.80 L361.29,279.14 L361.81,279.47 L362.34,279.79 L362.86,280.10 L363.39,280.41 L363.92,280.70 L364.44,281.00 L364.97,281.29 L365.50,281.57 L366.02,281.85 L366.55,282.14 L367.07,282.42 L367.60,282.70 L368.10,282.97 L368.60,283.24 L369.10,283.51 L369.60,283.78 L370.10,284.05 L370.60,284.32 L371.10,284.59 L371.60,284.86 L372.10,285.12 L372.60,285.39 L373.10,285.65 L373.60,285.91 L374.10,286.17 L374.60,286.43 L375.10,286.68 L375.60,286.93 L376.10,287.18 L376.60,287.42 L377.10,287.66 L377.60,287.90 L378.10,288.13 L378.60,288.35 L379.10,288.57 L379.60,288.79 L380.10,289.00 L380.62,289.21 L381.13,289.42 L381.65,289.63 L382.17,289.84 L382.69,290.04 L383.20,290.24 L383.72,290.44 L384.24,290.64 L384.76,290.83 L385.27,291.02 L385.79,291.20 L386.31,291.39 L386.83,291.57 L387.34,291.75 L387.86,291.92 L388.38,292.09 L388.90,292.26 L389.41,292.42 L389.93,292.59 L390.45,292.75 L390.97,292.90 L391.48,293.05 L392.00,293.20 L392.51,293.34 L393.02,293.48 L393.52,293.62 L394.03,293.76 L394.54,293.89 L395.05,294.02 L395.55,294.15 L396.06,294.27 L396.57,294.40 L397.08,294.52 L397.58,294.64 L398.09,294.76 L398.60,294.88 L399.11,295.00 L399.62,295.11 L400.12,295.23 L400.63,295.34 L401.14,295.45 L401.65,295.56 L402.15,295.67 L402.66,295.77 L403.17,295.88 L403.68,295.99 L404.18,296.09 L404.69,296.20 L405.20,296.30 L405.71,296.40 L406.22,296.51 L406.74,296.61 L407.25,296.71 L407.76,296.81 L408.27,296.91 L408.78,297.01 L409.30,297.11 L409.81,297.20 L410.32,297.30 L410.83,297.39 L411.34,297.49 L411.86,297.58 L412.37,297.67 L412.88,297.76 L413.39,297.85 L413.90,297.94 L414.42,298.03 L414.93,298.11 L415.44,298.20 L415.95,298.28 L416.46,298.36 L416.98,298.44 L417.49,298.52 L418.00,298.60 L418.51,298.68 L419.02,298.75 L419.52,298.83 L420.03,298.90 L420.54,298.98 L421.05,299.05 L421.56,299.13 L422.07,299.20 L422.57,299.27 L423.08,299.34 L423.59,299.41 L424.10,299.48 L424.61,299.55 L425.12,299.61 L425.62,299.68 L426.13,299.74 L426.64,299.80 L427.15,299.87 L427.66,299.92 L428.17,299.98 L428.68,300.04 L429.18,300.09 L429.69,300.15 L430.20,300.20 L430.71,300.25 L431.22,300.30 L431.73,300.35 L432.23,300.39 L432.74,300.44 L433.25,300.48 L433.76,300.53 L434.27,300.57 L434.78,300.61 L435.29,300.66 L435.79,300.70 L436.30,300.74 L436.81,300.78 L437.32,300.81 L437.83,300.85 L438.34,300.89 L438.85,300.93 L439.35,300.97 L439.86,301.00 L440.37,301.04 L440.88,301.08 L441.39,301.11 L441.90,301.15 L442.41,301.19 L442.91,301.22 L443.42,301.26 L443.93,301.30 L444.44,301.33 L444.95,301.37 L445.46,301.41 L445.97,301.44 L446.47,301.48 L446.98,301.52 L447.49,301.56 L448.00,301.60" stroke="#000"/><path d="M262.00,231.80 L262.60,232.07 L263.20,232.40 L263.71,232.82 L264.22,233.38 L264.73,234.05 L265.24,234.82 L265.75,235.66 L266.25,236.54 L266.76,237.45 L267.27,238.36 L267.78,239.26 L268.29,240.11 L268.80,240.90 L269.31,241.65 L269.82,242.41 L270.33,243.16 L270.84,243.92 L271.35,244.68 L271.85,245.44 L272.36,246.20 L272.87,246.95 L273.38,247.71 L273.89,248.45 L274.40,249.20 L274.91,249.93 L275.42,250.67 L275.93,251.39 L276.44,252.10 L276.95,252.81 L277.45,253.51 L277.96,254.19 L278.47,254.86 L278.98,255.52 L279.49,256.17 L280.00,256.80 L280.54,257.45 L281.07,258.09 L281.61,258.71 L282.15,259.33 L282.68,259.93 L283.22,260.52 L283.75,261.09 L284.29,261.66 L284.83,262.22 L285.36,262.76 L285.90,263.30 L286.44,263.84 L286.97,264.39 L287.51,264.94 L288.05,265.49 L288.58,266.03 L289.12,266.55 L289.65,267.04 L290.19,267.50 L290.73,267.92 L291.26,268.29 L291.80,268.60 L292.30,268.86 L292.80,269.13 L293.30,269.39 L293.80,269.65 L294.30,269.89 L294.80,270.12 L295.30,270.33 L295.80,270.52 L296.30,270.68 L296.80,270.82 L297.30,270.92 L297.80,270.98 L298.30,271.00 L298.82,270.97 L299.34,270.88 L299.87,270.74 L300.39,270.56 L300.91,270.34 L301.43,270.08 L301.96,269.81 L302.48,269.51 L303.00,269.20 L303.51,268.84 L304.02,268.37 L304.54,267.81 L305.05,267.16 L305.56,266.44 L306.08,265.65 L306.59,264.80 L307.10,263.90 L307.60,262.91 L308.10,261.73 L308.60,260.39 L309.10,258.91 L309.60,257.31 L310.10,255.60 L310.70,253.28 L311.30,250.55 L311.90,247.40 L312.43,243.99 L312.97,240.04 L313.50,236.00 L314.10,231.44 L314.70,226.78 L315.30,222.30 L315.85,218.36 L316.40,214.50 L316.95,210.84 L317.50,207.50 L318.00,204.64 L318.50,201.84 L319.00,199.17 L319.50,196.72 L320.00,194.57 L320.50,192.80 L321.03,191.14 L321.56,189.51 L322.09,187.97 L322.61,186.63 L323.14,185.56 L323.67,184.85 L324.20,184.60 L324.71,184.87 L325.23,185.62 L325.74,186.73 L326.26,188.12 L326.77,189.66 L327.29,191.25 L327.80,192.80 L328.33,194.45 L328.86,196.32 L329.39,198.37 L329.91,200.55 L330.44,202.83 L330.97,205.16 L331.50,207.50 L332.00,209.83 L332.50,212.35 L333.00,214.96 L333.50,217.55 L334.00,220.03 L334.50,222.30 L335.03,224.52 L335.57,226.64 L336.10,228.67 L336.63,230.63 L337.17,232.54 L337.70,234.41 L338.23,236.27 L338.77,238.13 L339.30,240.00 L339.82,241.83 L340.33,243.64 L340.85,245.43 L341.37,247.20 L341.88,248.92 L342.40,250.60 L342.90,252.23 L343.41,253.87 L343.91,255.50 L344.41,257.07 L344.92,258.56 L345.42,259.93 L345.93,261.15 L346.46,262.33 L347.00,263.45 L347.53,264.50 L348.07,265.49 L348.60,266.41 L349.14,267.27 L349.67,268.07 L350.21,268.81 L350.72,269.45 L351.23,270.06 L351.74,270.63 L352.25,271.17 L352.76,271.68 L353.27,272.16 L353.78,272.64 L354.29,273.10 L354.80,273.55 L355.31,274.00 L355.82,274.43 L356.33,274.86 L356.84,275.27 L357.35,275.68 L357.86,276.08 L358.37,276.46 L358.88,276.84 L359.39,277.20 L359.90,277.56 L360.41,277.90 L360.92,278.24 L361.43,278.57 L361.95,278.89 L362.46,279.20 L362.98,279.50 L363.49,279.79 L364.00,280.08 L364.52,280.36 L365.03,280.63 L365.54,280.91 L366.06,281.18 L366.57,281.45 L367.09,281.73 L367.60,282.00 L368.10,282.27 L368.60,282.54 L369.10,282.81 L369.60,283.08 L370.10,283.35 L370.60,283.61 L371.10,283.88 L371.60,284.15 L372.10,284.42 L372.60,284.68 L373.10,284.95 L373.60,285.21 L374.10,285.47 L374.60,285.72 L375.10,285.98 L375.60,286.23 L376.10,286.48 L376.60,286.72 L377.10,286.96 L377.60,287.20 L378.10,287.43 L378.60,287.65 L379.10,287.87 L379.60,288.09 L380.10,288.30 L380.62,288.51 L381.13,288.72 L381.65,288.93 L382.17,289.14 L382.69,289.34 L383.20,289.54 L383.72,289.74 L384.24,289.94 L384.76,290.13 L385.27,290.32 L385.79,290.50 L386.31,290.69 L386.83,290.87 L387.34,291.05 L387.86,291.22 L388.38,291.39 L388.90,291.56 L389.41,291.72 L389.93,291.89 L390.45,292.05 L390.97,292.20 L391.48,292.35 L392.00,292.50 L392.51,292.64 L393.02,292.78 L393.52,292.92 L394.03,293.06 L394.54,293.19 L395.05,293.32 L395.55,293.45 L396.06,293.57 L396.57,293.70 L397.08,293.82 L397.58,293.94 L398.09,294.06 L398.60,294.18 L399.11,294.30 L399.62,294.41 L400.12,294.53 L400.63,294.64 L401.14,294.75 L401.65,294.86 L402.15,294.97 L402.66,295.07 L403.17,295.18 L403.68,295.29 L404.18,295.39 L404.69,295.50 L405.20,295.60 L405.71,295.70 L406.22,295.81 L406.74,295.91 L407.25,296.01 L407.76,296.11 L408.27,296.21 L408.78,296.31 L409.30,296.41 L409.81,296.50 L410.32,296.60 L410.83,296.69 L411.34,296.79 L411.86,296.88 L412.37,296.97 L412.88,297.06 L413.39,297.15 L413.90,297.24 L414.42,297.33 L414.93,297.41 L415.44,297.50 L415.95,297.58 L416.46,297.66 L416.98,297.74 L417.49,297.82 L418.00,297.90 L418.51,297.98 L419.02,298.05 L419.52,298.13 L420.03,298.20 L420.54,298.28 L421.05,298.35 L421.56,298.43 L422.07,298.50 L422.57,298.57 L423.08,298.64 L423.59,298.71 L424.10,298.78 L424.61,298.85 L425.12,298.91 L425.62,298.98 L426.13,299.04 L426.64,299.10 L427.15,299.17 L427.66,299.22 L428.17,299.28 L428.68,299.34 L429.18,299.39 L429.69,299.45 L430.20,299.50 L430.71,299.55 L431.22,299.60 L431.73,299.65 L432.23,299.69 L432.74,299.74 L433.25,299.78 L433.76,299.83 L434.27,299.87 L434.78,299.91 L435.29,299.96 L435.79,300.00 L436.30,300.04 L436.81,300.08 L437.32,300.11 L437.83,300.15 L438.34,300.19 L438.85,300.23 L439.35,300.27 L439.86,300.30 L440.37,300.34 L440.88,300.38 L441.39,300.41 L441.90,300.45 L442.41,300.49 L442.91,300.52 L443.42,300.56 L443.93,300.60 L444.44,300.63 L444.95,300.67 L445.46,300.71 L445.97,300.74 L446.47,300.78 L446.98,300.82 L447.49,300.86 L448.00,300.90" stroke="#f00"/><path d="M262.00,233.60 L262.60,233.88 L263.20,234.20 L263.71,234.60 L264.22,235.10 L264.73,235.70 L265.24,236.37 L265.75,237.11 L266.25,237.88 L266.76,238.68 L267.27,239.49 L267.78,240.29 L268.29,241.06 L268.80,241.80 L269.31,242.52 L269.82,243.25 L270.33,243.99 L270.84,244.74 L271.35,245.50 L271.85,246.26 L272.36,247.03 L272.87,247.81 L273.38,248.58 L273.89,249.36 L274.40,250.13 L274.91,250.89 L275.42,251.66 L275.93,252.41 L276.44,253.16 L276.95,253.89 L277.45,254.62 L277.96,255.33 L278.47,256.02 L278.98,256.70 L279.49,257.36 L280.00,258.00 L280.54,258.65 L281.07,259.29 L281.61,259.92 L282.15,260.53 L282.68,261.13 L283.22,261.72 L283.75,262.30 L284.29,262.86 L284.83,263.42 L285.36,263.96 L285.90,264.50 L286.44,265.04 L286.97,265.59 L287.51,266.14 L288.05,266.69 L288.58,267.23 L289.12,267.75 L289.65,268.24 L290.19,268.70 L290.73,269.12 L291.26,269.49 L291.80,269.80 L292.31,270.07 L292.81,270.34 L293.32,270.60 L293.83,270.86 L294.34,271.11 L294.84,271.35 L295.35,271.57 L295.86,271.77 L296.36,271.95 L296.87,272.10 L297.38,272.23 L297.89,272.32 L298.39,272.38 L298.90,272.40 L299.42,272.38 L299.94,272.31 L300.47,272.20 L300.99,272.06 L301.51,271.89 L302.03,271.70 L302.56,271.48 L303.08,271.25 L303.60,271.00 L304.12,270.69 L304.64,270.27 L305.17,269.75 L305.69,269.15 L306.21,268.46 L306.73,267.70 L307.26,266.88 L307.78,266.01 L308.30,265.10 L308.80,264.13 L309.30,263.00 L309.80,261.71 L310.30,260.25 L310.80,258.61 L311.30,256.80 L311.87,254.19 L312.43,250.93 L313.00,247.40 L313.53,243.89 L314.07,240.06 L314.60,236.00 L315.13,231.52 L315.67,226.77 L316.20,222.30 L316.73,218.28 L317.25,214.42 L317.77,210.80 L318.30,207.50 L318.88,204.03 L319.46,200.64 L320.04,197.51 L320.62,194.84 L321.20,192.80 L321.74,191.27 L322.27,189.79 L322.81,188.41 L323.35,187.17 L323.89,186.12 L324.43,185.31 L324.96,184.78 L325.50,184.60 L326.07,184.97 L326.63,185.97 L327.20,187.43 L327.77,189.17 L328.33,191.02 L328.90,192.80 L329.43,194.49 L329.96,196.37 L330.49,198.42 L331.01,200.59 L331.54,202.85 L332.07,205.16 L332.60,207.50 L333.10,209.82 L333.60,212.32 L334.10,214.90 L334.60,217.48 L335.10,219.98 L335.60,222.30 L336.16,224.74 L336.73,227.09 L337.29,229.37 L337.85,231.58 L338.41,233.74 L338.97,235.86 L339.54,237.94 L340.10,240.00 L340.62,241.86 L341.13,243.68 L341.65,245.46 L342.17,247.20 L342.68,248.92 L343.20,250.60 L343.78,252.50 L344.36,254.41 L344.94,256.29 L345.52,258.08 L346.10,259.74 L346.67,261.22 L347.19,262.41 L347.70,263.54 L348.22,264.62 L348.73,265.64 L349.25,266.59 L349.76,267.49 L350.28,268.32 L350.79,269.08 L351.34,269.84 L351.89,270.54 L352.44,271.19 L353.00,271.81 L353.55,272.40 L354.10,272.96 L354.65,273.51 L355.20,274.05 L355.73,274.57 L356.27,275.07 L356.80,275.56 L357.34,276.04 L357.87,276.51 L358.41,276.97 L358.94,277.41 L359.48,277.84 L360.01,278.25 L360.55,278.65 L361.08,279.04 L361.58,279.39 L362.08,279.73 L362.58,280.06 L363.09,280.38 L363.59,280.69 L364.09,281.00 L364.59,281.29 L365.09,281.59 L365.59,281.87 L366.10,282.16 L366.60,282.44 L367.10,282.72 L367.60,283.00 L368.10,283.28 L368.60,283.55 L369.10,283.83 L369.60,284.11 L370.10,284.38 L370.60,284.65 L371.10,284.92 L371.60,285.19 L372.10,285.46 L372.60,285.72 L373.10,285.98 L373.60,286.24 L374.10,286.50 L374.60,286.75 L375.10,287.00 L375.60,287.25 L376.10,287.49 L376.60,287.74 L377.10,287.97 L377.60,288.20 L378.10,288.43 L378.60,288.66 L379.10,288.88 L379.60,289.09 L380.10,289.30 L380.62,289.51 L381.13,289.72 L381.65,289.93 L382.17,290.14 L382.69,290.34 L383.20,290.54 L383.72,290.74 L384.24,290.94 L384.76,291.13 L385.27,291.32 L385.79,291.50 L386.31,291.69 L386.83,291.87 L387.34,292.05 L387.86,292.22 L388.38,292.39 L388.90,292.56 L389.41,292.72 L389.93,292.89 L390.45,293.05 L390.97,293.20 L391.48,293.35 L392.00,293.50 L392.51,293.64 L393.02,293.78 L393.52,293.92 L394.03,294.06 L394.54,294.19 L395.05,294.32 L395.55,294.45 L396.06,294.57 L396.57,294.70 L397.08,294.82 L397.58,294.94 L398.09,295.06 L398.60,295.18 L399.11,295.30 L399.62,295.41 L400.12,295.53 L400.63,295.64 L401.14,295.75 L401.65,295.86 L402.15,295.97 L402.66,296.07 L403.17,296.18 L403.68,296.29 L404.18,296.39 L404.69,296.50 L405.20,296.60 L405.71,296.70 L406.22,296.81 L406.74,296.91 L407.25,297.01 L407.76,297.11 L408.27,297.21 L408.78,297.31 L409.30,297.41 L409.81,297.50 L410.32,297.60 L410.83,297.69 L411.34,297.79 L411.86,297.88 L412.37,297.97 L412.88,298.06 L413.39,298.15 L413.90,298.24 L414.42,298.33 L414.93,298.41 L415.44,298.50 L415.95,298.58 L416.46,298.66 L416.98,298.74 L417.49,298.82 L418.00,298.90 L418.51,298.98 L419.02,299.05 L419.52,299.13 L420.03,299.20 L420.54,299.28 L421.05,299.35 L421.56,299.43 L422.07,299.50 L422.57,299.57 L423.08,299.64 L423.59,299.71 L424.10,299.78 L424.61,299.85 L425.12,299.91 L425.62,299.98 L426.13,300.04 L426.64,300.10 L427.15,300.17 L427.66,300.22 L428.17,300.28 L428.68,300.34 L429.18,300.39 L429.69,300.45 L430.20,300.50 L430.71,300.55 L431.22,300.60 L431.73,300.65 L432.23,300.69 L432.74,300.74 L433.25,300.78 L433.76,300.83 L434.27,300.87 L434.78,300.91 L435.29,300.96 L435.79,301.00 L436.30,301.04 L436.81,301.08 L437.32,301.11 L437.83,301.15 L438.34,301.19 L438.85,301.23 L439.35,301.27 L439.86,301.30 L440.37,301.34 L440.88,301.38 L441.39,301.41 L441.90,301.45 L442.41,301.49 L442.91,301.52 L443.42,301.56 L443.93,301.60 L444.44,301.63 L444.95,301.67 L445.46,301.71 L445.97,301.74 L446.47,301.78 L446.98,301.82 L447.49,301.86 L448.00,301.90" stroke="#00f"/><path d="M262.00,235.00 L262.60,235.27 L263.20,235.60 L263.71,236.01 L264.22,236.54 L264.73,237.17 L265.24,237.88 L265.75,238.66 L266.25,239.48 L266.76,240.33 L267.27,241.19 L267.78,242.03 L268.29,242.84 L268.80,243.60 L269.31,244.33 L269.82,245.08 L270.33,245.83 L270.84,246.58 L271.35,247.34 L271.85,248.11 L272.36,248.87 L272.87,249.64 L273.38,250.41 L273.89,251.17 L274.40,251.93 L274.91,252.69 L275.42,253.44 L275.93,254.18 L276.44,254.92 L276.95,255.64 L277.45,256.35 L277.96,257.05 L278.47,257.74 L278.98,258.41 L279.49,259.06 L280.00,259.70 L280.54,260.35 L281.07,260.99 L281.61,261.62 L282.15,262.23 L282.68,262.83 L283.22,263.42 L283.75,264.00 L284.29,264.56 L284.83,265.12 L285.36,265.66 L285.90,266.20 L286.44,266.73 L286.97,267.27 L287.51,267.80 L288.05,268.33 L288.58,268.84 L289.12,269.35 L289.65,269.83 L290.19,270.29 L290.73,270.73 L291.26,271.13 L291.80,271.50 L292.31,271.84 L292.81,272.19 L293.32,272.54 L293.83,272.89 L294.34,273.23 L294.84,273.57 L295.35,273.88 L295.86,274.17 L296.36,274.43 L296.87,274.66 L297.38,274.84 L297.89,274.98 L298.39,275.07 L298.90,275.10 L299.44,275.08 L299.97,275.03 L300.51,274.94 L301.05,274.82 L301.58,274.67 L302.12,274.49 L302.65,274.29 L303.19,274.07 L303.73,273.83 L304.26,273.57 L304.80,273.30 L305.32,272.95 L305.84,272.46 L306.37,271.84 L306.89,271.10 L307.41,270.26 L307.93,269.34 L308.46,268.34 L308.98,267.29 L309.50,266.20 L310.08,264.81 L310.66,263.14 L311.24,261.22 L311.82,259.09 L312.40,256.80 L313.00,254.08 L313.60,250.91 L314.20,247.40 L314.73,243.88 L315.27,239.98 L315.80,236.00 L316.40,231.49 L317.00,226.87 L317.60,222.30 L318.10,218.44 L318.60,214.52 L319.10,210.79 L319.60,207.50 L320.10,204.52 L320.60,201.63 L321.10,198.92 L321.60,196.48 L322.10,194.41 L322.60,192.80 L323.11,191.43 L323.62,190.09 L324.13,188.83 L324.64,187.68 L325.16,186.66 L325.67,185.81 L326.18,185.16 L326.69,184.74 L327.20,184.60 L327.75,184.96 L328.30,185.95 L328.85,187.38 L329.40,189.11 L329.95,190.97 L330.50,192.80 L331.05,194.74 L331.60,197.01 L332.15,199.50 L332.70,202.14 L333.25,204.83 L333.80,207.50 L334.36,210.28 L334.92,213.20 L335.48,216.17 L336.04,219.07 L336.60,221.80 L337.14,224.28 L337.68,226.70 L338.21,229.07 L338.75,231.38 L339.29,233.63 L339.82,235.82 L340.36,237.94 L340.90,240.00 L341.42,241.90 L341.93,243.73 L342.45,245.50 L342.97,247.22 L343.48,248.92 L344.00,250.60 L344.57,252.48 L345.14,254.38 L345.71,256.26 L346.28,258.05 L346.85,259.72 L347.42,261.21 L347.99,262.55 L348.55,263.83 L349.11,265.03 L349.68,266.16 L350.24,267.21 L350.81,268.18 L351.37,269.06 L351.90,269.81 L352.43,270.51 L352.96,271.16 L353.49,271.77 L354.01,272.36 L354.54,272.92 L355.07,273.46 L355.60,274.00 L356.11,274.51 L356.63,275.01 L357.14,275.51 L357.65,275.98 L358.16,276.45 L358.68,276.90 L359.19,277.34 L359.70,277.77 L360.21,278.18 L360.73,278.58 L361.24,278.96 L361.77,279.34 L362.30,279.71 L362.83,280.06 L363.36,280.40 L363.89,280.74 L364.42,281.06 L364.95,281.38 L365.48,281.69 L366.01,282.00 L366.54,282.30 L367.07,282.60 L367.60,282.90 L368.10,283.18 L368.60,283.46 L369.10,283.74 L369.60,284.01 L370.10,284.29 L370.60,284.56 L371.10,284.83 L371.60,285.10 L372.10,285.37 L372.60,285.63 L373.10,285.89 L373.60,286.15 L374.10,286.41 L374.60,286.66 L375.10,286.91 L375.60,287.16 L376.10,287.40 L376.60,287.64 L377.10,287.87 L377.60,288.11 L378.10,288.33 L378.60,288.56 L379.10,288.78 L379.60,288.99 L380.10,289.20 L380.62,289.41 L381.13,289.62 L381.65,289.83 L382.17,290.04 L382.69,290.24 L383.20,290.44 L383.72,290.64 L384.24,290.84 L384.76,291.03 L385.27,291.22 L385.79,291.40 L386.31,291.59 L386.83,291.77 L387.34,291.95 L387.86,292.12 L388.38,292.29 L388.90,292.46 L389.41,292.62 L389.93,292.79 L390.45,292.95 L390.97,293.10 L391.48,293.25 L392.00,293.40 L392.51,293.54 L393.02,293.68 L393.52,293.82 L394.03,293.96 L394.54,294.09 L395.05,294.22 L395.55,294.35 L396.06,294.47 L396.57,294.60 L397.08,294.72 L397.58,294.84 L398.09,294.96 L398.60,295.08 L399.11,295.20 L399.62,295.31 L400.12,295.43 L400.63,295.54 L401.14,295.65 L401.65,295.76 L402.15,295.87 L402.66,295.97 L403.17,296.08 L403.68,296.19 L404.18,296.29 L404.69,296.40 L405.20,296.50 L405.71,296.60 L406.22,296.71 L406.74,296.81 L407.25,296.91 L407.76,297.01 L408.27,297.11 L408.78,297.21 L409.30,297.31 L409.81,297.40 L410.32,297.50 L410.83,297.59 L411.34,297.69 L411.86,297.78 L412.37,297.87 L412.88,297.96 L413.39,298.05 L413.90,298.14 L414.42,298.23 L414.93,298.31 L415.44,298.40 L415.95,298.48 L416.46,298.56 L416.98,298.64 L417.49,298.72 L418.00,298.80 L418.51,298.88 L419.02,298.95 L419.52,299.03 L420.03,299.10 L420.54,299.18 L421.05,299.25 L421.56,299.33 L422.07,299.40 L422.57,299.47 L423.08,299.54 L423.59,299.61 L424.10,299.68 L424.61,299.75 L425.12,299.81 L425.62,299.88 L426.13,299.94 L426.64,300.00 L427.15,300.07 L427.66,300.12 L428.17,300.18 L428.68,300.24 L429.18,300.29 L429.69,300.35 L430.20,300.40 L430.71,300.45 L431.22,300.50 L431.73,300.55 L432.23,300.59 L432.74,300.64 L433.25,300.68 L433.76,300.73 L434.27,300.77 L434.78,300.81 L435.29,300.86 L435.79,300.90 L436.30,300.94 L436.81,300.98 L437.32,301.01 L437.83,301.05 L438.34,301.09 L438.85,301.13 L439.35,301.17 L439.86,301.20 L440.37,301.24 L440.88,301.28 L441.39,301.31 L441.90,301.35 L442.41,301.39 L442.91,301.42 L443.42,301.46 L443.93,301.50 L444.44,301.53 L444.95,301.57 L445.46,301.61 L445.97,301.64 L446.47,301.68 L446.98,301.72 L447.49,301.76 L448.00,301.80" stroke="#f0f"/></g><rect x="263.00" y="172.20" width="184.80" height="134.80" fill="none" stroke="#000" stroke-width="1.9"/><line x1="259.80" y1="307.00" x2="263.00" y2="307.00" stroke="#000" stroke-width="1.6"/><text x="258.40" y="310.20" font-size="9" font-weight="bold" text-anchor="end">0.0</text><line x1="261.10" y1="294.74" x2="263.00" y2="294.74" stroke="#000" stroke-width="1.5"/><line x1="259.80" y1="282.48" x2="263.00" y2="282.48" stroke="#000" stroke-width="1.6"/><text x="258.40" y="285.68" font-size="9" font-weight="bold" text-anchor="end">0.2</text><line x1="261.10" y1="270.22" x2="263.00" y2="270.22" stroke="#000" stroke-width="1.5"/><line x1="259.80" y1="257.96" x2="263.00" y2="257.96" stroke="#000" stroke-width="1.6"/><text x="258.40" y="261.16" font-size="9" font-weight="bold" text-anchor="end">0.4</text><line x1="261.10" y1="245.70" x2="263.00" y2="245.70" stroke="#000" stroke-width="1.5"/><line x1="259.80" y1="233.44" x2="263.00" y2="233.44" stroke="#000" stroke-width="1.6"/><text x="258.40" y="236.64" font-size="9" font-weight="bold" text-anchor="end">0.6</text><line x1="261.10" y1="221.18" x2="263.00" y2="221.18" stroke="#000" stroke-width="1.5"/><line x1="259.80" y1="208.92" x2="263.00" y2="208.92" stroke="#000" stroke-width="1.6"/><text x="258.40" y="212.12" font-size="9" font-weight="bold" text-anchor="end">0.8</text><line x1="261.10" y1="196.66" x2="263.00" y2="196.66" stroke="#000" stroke-width="1.5"/><line x1="259.80" y1="184.40" x2="263.00" y2="184.40" stroke="#000" stroke-width="1.6"/><text x="258.40" y="187.60" font-size="9" font-weight="bold" text-anchor="end">1.0</text><line x1="263.00" y1="307.00" x2="263.00" y2="310.20" stroke="#000" stroke-width="1.6"/><text x="263.20" y="319.20" font-size="9" font-weight="bold" text-anchor="middle">400</text><line x1="286.10" y1="307.00" x2="286.10" y2="308.90" stroke="#000" stroke-width="1.5"/><line x1="309.20" y1="307.00" x2="309.20" y2="310.20" stroke="#000" stroke-width="1.6"/><text x="309.40" y="319.20" font-size="9" font-weight="bold" text-anchor="middle">500</text><line x1="332.30" y1="307.00" x2="332.30" y2="308.90" stroke="#000" stroke-width="1.5"/><line x1="355.40" y1="307.00" x2="355.40" y2="310.20" stroke="#000" stroke-width="1.6"/><text x="355.60" y="319.20" font-size="9" font-weight="bold" text-anchor="middle">600</text><line x1="378.50" y1="307.00" x2="378.50" y2="308.90" stroke="#000" stroke-width="1.5"/><line x1="401.60" y1="307.00" x2="401.60" y2="310.20" stroke="#000" stroke-width="1.6"/><text x="401.80" y="319.20" font-size="9" font-weight="bold" text-anchor="middle">700</text><line x1="424.70" y1="307.00" x2="424.70" y2="308.90" stroke="#000" stroke-width="1.5"/><line x1="447.80" y1="307.00" x2="447.80" y2="310.20" stroke="#000" stroke-width="1.6"/><text x="448.00" y="319.20" font-size="9" font-weight="bold" text-anchor="middle">800</text><text x="355.40" y="336.6" font-size="10.4" font-weight="bold" text-anchor="middle">Wavelength (nm)</text><text transform="translate(236.80,239.2) rotate(-90)" font-size="10.5" font-weight="bold" text-anchor="middle">Normalized scattering</text><line x1="398.50" y1="179.20" x2="418.30" y2="179.20" stroke="#000" stroke-width="1.7"/><text x="420.20" y="181.80" font-size="8.6" font-weight="bold">n<tspan font-size="5" dx="0.5" dy="3.2">2</tspan><tspan dx="0.3" dy="-3.2">=1.0</tspan></text><line x1="398.50" y1="192.50" x2="418.30" y2="192.50" stroke="#f00" stroke-width="1.7"/><text x="420.20" y="195.10" font-size="8.6" font-weight="bold">n<tspan font-size="5" dx="0.5" dy="3.2">2</tspan><tspan dx="0.3" dy="-3.2">=1.5</tspan></text><line x1="398.50" y1="205.80" x2="418.30" y2="205.80" stroke="#00f" stroke-width="1.7"/><text x="420.20" y="208.40" font-size="8.6" font-weight="bold">n<tspan font-size="5" dx="0.5" dy="3.2">2</tspan><tspan dx="0.3" dy="-3.2">=2.0</tspan></text><line x1="398.50" y1="219.10" x2="418.30" y2="219.10" stroke="#f0f" stroke-width="1.7"/><text x="420.20" y="221.70" font-size="8.6" font-weight="bold">n<tspan font-size="5" dx="0.5" dy="3.2">2</tspan><tspan dx="0.3" dy="-3.2">=2.5</tspan></text><text x="399.20" y="235.20" font-size="8.6" font-weight="bold">n<tspan font-size="5" dx="0.5" dy="3.2">1</tspan><tspan dx="0.3" dy="-3.2">=1.0</tspan></text><clipPath id="c491"><rect x="491.90" y="172.20" width="184.30" height="135.80"/></clipPath><g clip-path="url(#c491)" fill="none" stroke-width="1.5" stroke-linejoin="round"><path d="M490.50,234.00 L491.15,234.18 L491.80,234.40 L492.30,234.64 L492.80,234.95 L493.30,235.31 L493.80,235.72 L494.30,236.18 L494.80,236.67 L495.30,237.21 L495.80,237.77 L496.30,238.36 L496.80,238.97 L497.30,239.59 L497.80,240.22 L498.30,240.86 L498.80,241.49 L499.30,242.12 L499.80,242.73 L500.30,243.33 L500.80,243.90 L501.31,244.48 L501.83,245.07 L502.34,245.68 L502.85,246.29 L503.37,246.91 L503.88,247.54 L504.39,248.17 L504.90,248.81 L505.42,249.45 L505.93,250.09 L506.44,250.73 L506.96,251.38 L507.47,252.02 L507.98,252.66 L508.50,253.29 L509.01,253.92 L509.52,254.55 L510.03,255.16 L510.55,255.77 L511.06,256.37 L511.57,256.96 L512.09,257.54 L512.60,258.10 L513.13,258.68 L513.66,259.27 L514.19,259.86 L514.71,260.46 L515.24,261.05 L515.77,261.63 L516.30,262.21 L516.83,262.76 L517.36,263.30 L517.89,263.80 L518.41,264.28 L518.94,264.73 L519.47,265.14 L520.00,265.50 L520.53,265.85 L521.06,266.21 L521.59,266.56 L522.12,266.91 L522.65,267.23 L523.18,267.51 L523.71,267.75 L524.24,267.94 L524.77,268.06 L525.30,268.10 L525.80,268.06 L526.30,267.95 L526.80,267.78 L527.30,267.57 L527.80,267.32 L528.30,267.06 L528.80,266.80 L529.33,266.50 L529.86,266.14 L530.39,265.72 L530.91,265.25 L531.44,264.72 L531.97,264.14 L532.50,263.50 L533.04,262.71 L533.58,261.73 L534.12,260.60 L534.66,259.34 L535.20,258.00 L535.80,256.34 L536.40,254.44 L537.00,252.31 L537.60,250.00 L538.20,247.39 L538.80,244.43 L539.40,241.26 L540.00,238.00 L540.55,234.89 L541.10,231.62 L541.65,228.28 L542.20,225.00 L542.83,221.33 L543.47,217.68 L544.10,214.00 L544.64,210.71 L545.18,207.30 L545.72,203.92 L546.26,200.76 L546.80,198.00 L547.35,195.51 L547.90,193.19 L548.45,191.16 L549.00,189.50 L549.50,188.15 L550.00,186.83 L550.50,185.70 L551.00,184.90 L551.50,184.60 L552.02,184.86 L552.54,185.57 L553.07,186.67 L553.59,188.08 L554.11,189.71 L554.63,191.48 L555.16,193.32 L555.68,195.16 L556.20,196.90 L556.70,198.59 L557.20,200.44 L557.70,202.42 L558.20,204.50 L558.70,206.63 L559.20,208.80 L559.72,211.20 L560.24,213.78 L560.76,216.41 L561.28,218.93 L561.80,221.20 L562.31,223.22 L562.83,225.12 L563.34,226.94 L563.86,228.68 L564.37,230.36 L564.89,231.99 L565.40,233.60 L565.95,235.28 L566.50,236.92 L567.05,238.50 L567.60,240.05 L568.15,241.57 L568.70,243.06 L569.25,244.54 L569.80,246.00 L570.33,247.43 L570.87,248.87 L571.40,250.31 L571.93,251.73 L572.47,253.12 L573.00,254.46 L573.53,255.73 L574.07,256.92 L574.60,258.00 L575.13,259.00 L575.66,259.97 L576.19,260.90 L576.71,261.81 L577.24,262.68 L577.77,263.52 L578.30,264.33 L578.83,265.12 L579.36,265.87 L579.89,266.61 L580.41,267.31 L580.94,268.00 L581.47,268.66 L582.00,269.30 L582.50,269.89 L583.00,270.47 L583.50,271.04 L584.00,271.59 L584.50,272.14 L585.00,272.67 L585.50,273.20 L586.00,273.71 L586.50,274.21 L587.00,274.70 L587.50,275.18 L588.00,275.65 L588.50,276.11 L589.00,276.56 L589.50,277.00 L590.00,277.43 L590.50,277.85 L591.00,278.26 L591.50,278.66 L592.00,279.05 L592.50,279.43 L593.00,279.80 L593.52,280.17 L594.04,280.54 L594.55,280.90 L595.07,281.25 L595.59,281.59 L596.11,281.92 L596.62,282.25 L597.14,282.57 L597.66,282.88 L598.18,283.18 L598.69,283.48 L599.21,283.76 L599.73,284.04 L600.25,284.32 L600.76,284.59 L601.28,284.85 L601.80,285.10 L602.32,285.35 L602.85,285.60 L603.37,285.83 L603.89,286.07 L604.42,286.30 L604.94,286.52 L605.46,286.74 L605.99,286.95 L606.51,287.16 L607.04,287.37 L607.56,287.57 L608.08,287.77 L608.61,287.96 L609.13,288.15 L609.65,288.34 L610.18,288.52 L610.70,288.70 L611.22,288.87 L611.74,289.04 L612.25,289.21 L612.77,289.37 L613.29,289.53 L613.81,289.69 L614.32,289.84 L614.84,289.99 L615.36,290.14 L615.88,290.29 L616.39,290.43 L616.91,290.58 L617.43,290.72 L617.95,290.87 L618.46,291.01 L618.98,291.15 L619.50,291.30 L620.00,291.44 L620.50,291.58 L621.00,291.72 L621.50,291.86 L622.00,292.00 L622.50,292.14 L623.00,292.28 L623.50,292.42 L624.00,292.55 L624.50,292.69 L625.00,292.83 L625.50,292.96 L626.00,293.10 L626.50,293.23 L627.00,293.37 L627.50,293.50 L628.00,293.63 L628.50,293.76 L629.00,293.89 L629.50,294.02 L630.00,294.15 L630.50,294.28 L631.00,294.41 L631.50,294.53 L632.00,294.65 L632.50,294.78 L633.00,294.90 L633.50,295.02 L634.00,295.14 L634.50,295.27 L635.00,295.39 L635.50,295.52 L636.00,295.64 L636.50,295.76 L637.00,295.89 L637.50,296.01 L638.00,296.13 L638.50,296.25 L639.00,296.37 L639.50,296.49 L640.00,296.61 L640.50,296.72 L641.00,296.84 L641.50,296.95 L642.00,297.05 L642.50,297.16 L643.00,297.26 L643.50,297.36 L644.00,297.46 L644.50,297.55 L645.00,297.64 L645.50,297.72 L646.00,297.80 L646.50,297.88 L647.00,297.95 L647.50,298.03 L648.00,298.10 L648.50,298.17 L649.00,298.24 L649.50,298.31 L650.00,298.38 L650.50,298.45 L651.00,298.51 L651.50,298.58 L652.00,298.64 L652.50,298.70 L653.00,298.76 L653.50,298.82 L654.00,298.88 L654.50,298.94 L655.00,299.00 L655.50,299.06 L656.00,299.11 L656.50,299.17 L657.00,299.22 L657.50,299.28 L658.00,299.33 L658.50,299.39 L659.00,299.44 L659.50,299.49 L660.00,299.54 L660.50,299.59 L661.00,299.64 L661.50,299.69 L662.00,299.74 L662.50,299.79 L663.00,299.84 L663.50,299.89 L664.00,299.94 L664.50,299.99 L665.00,300.04 L665.50,300.09 L666.00,300.13 L666.50,300.18 L667.00,300.23 L667.50,300.28 L668.00,300.33 L668.50,300.38 L669.00,300.43 L669.50,300.47 L670.00,300.52 L670.50,300.57 L671.00,300.62 L671.50,300.67 L672.00,300.72 L672.50,300.77 L673.00,300.83 L673.50,300.88 L674.00,300.93 L674.50,300.98 L675.00,301.04 L675.50,301.09 L676.00,301.14 L676.50,301.20" stroke="#000"/><path d="M490.50,287.20 L491.20,287.24 L491.90,287.30 L492.42,287.36 L492.94,287.45 L493.45,287.56 L493.97,287.69 L494.49,287.84 L495.01,288.00 L495.52,288.17 L496.04,288.36 L496.56,288.55 L497.08,288.75 L497.59,288.96 L498.11,289.17 L498.63,289.38 L499.15,289.59 L499.66,289.80 L500.18,290.00 L500.70,290.20 L501.21,290.40 L501.72,290.60 L502.23,290.82 L502.74,291.04 L503.25,291.27 L503.76,291.50 L504.27,291.74 L504.78,291.98 L505.29,292.22 L505.80,292.47 L506.31,292.71 L506.82,292.95 L507.33,293.18 L507.84,293.41 L508.35,293.63 L508.86,293.85 L509.37,294.05 L509.88,294.25 L510.39,294.43 L510.90,294.60 L511.41,294.76 L511.92,294.93 L512.43,295.09 L512.94,295.25 L513.45,295.40 L513.96,295.56 L514.47,295.71 L514.98,295.86 L515.49,296.00 L516.00,296.14 L516.51,296.28 L517.02,296.41 L517.53,296.53 L518.04,296.65 L518.55,296.76 L519.06,296.86 L519.57,296.96 L520.08,297.05 L520.59,297.13 L521.10,297.20 L521.61,297.27 L522.12,297.33 L522.62,297.40 L523.13,297.46 L523.64,297.52 L524.15,297.58 L524.65,297.63 L525.16,297.68 L525.67,297.72 L526.18,297.75 L526.68,297.78 L527.19,297.79 L527.70,297.80 L528.21,297.79 L528.72,297.77 L529.22,297.73 L529.73,297.68 L530.24,297.62 L530.75,297.55 L531.25,297.46 L531.76,297.37 L532.27,297.27 L532.78,297.16 L533.28,297.04 L533.79,296.92 L534.30,296.80 L534.83,296.64 L535.35,296.44 L535.88,296.19 L536.41,295.90 L536.94,295.58 L537.46,295.22 L537.99,294.84 L538.52,294.43 L539.05,294.00 L539.57,293.56 L540.10,293.10 L540.65,292.60 L541.20,292.06 L541.75,291.47 L542.30,290.81 L542.85,290.07 L543.40,289.25 L543.95,288.33 L544.50,287.30 L545.05,285.89 L545.60,284.03 L546.15,281.98 L546.70,280.00 L547.33,277.92 L547.97,275.82 L548.60,273.50 L549.12,271.39 L549.63,269.15 L550.15,266.75 L550.67,264.19 L551.18,261.44 L551.70,258.50 L552.20,255.28 L552.70,251.64 L553.20,247.76 L553.70,243.82 L554.20,240.00 L554.78,235.75 L555.35,231.50 L555.92,227.25 L556.50,223.00 L557.04,218.85 L557.58,214.56 L558.12,210.33 L558.66,206.41 L559.20,203.00 L559.71,199.98 L560.23,196.85 L560.74,193.76 L561.25,190.89 L561.76,188.37 L562.27,186.38 L562.79,185.07 L563.30,184.60 L563.86,185.11 L564.41,186.52 L564.97,188.62 L565.53,191.22 L566.09,194.11 L566.64,197.11 L567.20,200.00 L567.77,203.28 L568.33,207.03 L568.90,210.60 L569.44,213.60 L569.98,216.45 L570.52,219.21 L571.06,221.97 L571.60,224.80 L572.12,227.66 L572.64,230.62 L573.16,233.55 L573.68,236.35 L574.20,238.90 L574.74,241.28 L575.28,243.50 L575.82,245.60 L576.36,247.62 L576.90,249.60 L577.42,251.49 L577.94,253.36 L578.46,255.15 L578.98,256.84 L579.50,258.40 L580.04,259.91 L580.59,261.34 L581.13,262.72 L581.67,264.02 L582.21,265.25 L582.76,266.41 L583.30,267.50 L583.81,268.48 L584.32,269.46 L584.83,270.41 L585.34,271.36 L585.85,272.28 L586.36,273.19 L586.87,274.07 L587.38,274.94 L587.89,275.78 L588.41,276.59 L588.92,277.38 L589.43,278.13 L589.94,278.86 L590.45,279.56 L590.96,280.22 L591.47,280.85 L591.98,281.44 L592.49,281.99 L593.00,282.50 L593.52,282.99 L594.04,283.45 L594.55,283.90 L595.07,284.33 L595.59,284.74 L596.11,285.13 L596.62,285.51 L597.14,285.88 L597.66,286.23 L598.18,286.57 L598.69,286.90 L599.21,287.22 L599.73,287.53 L600.25,287.83 L600.76,288.12 L601.28,288.41 L601.80,288.70 L602.32,288.98 L602.85,289.26 L603.37,289.53 L603.89,289.80 L604.42,290.05 L604.94,290.30 L605.46,290.55 L605.99,290.79 L606.51,291.02 L607.04,291.25 L607.56,291.47 L608.08,291.69 L608.61,291.90 L609.13,292.11 L609.65,292.31 L610.18,292.51 L610.70,292.70 L611.22,292.89 L611.74,293.07 L612.25,293.25 L612.77,293.42 L613.29,293.59 L613.81,293.76 L614.32,293.92 L614.84,294.09 L615.36,294.24 L615.88,294.40 L616.39,294.55 L616.91,294.70 L617.43,294.84 L617.95,294.99 L618.46,295.13 L618.98,295.26 L619.50,295.40 L620.00,295.53 L620.50,295.66 L621.00,295.78 L621.50,295.91 L622.00,296.03 L622.50,296.15 L623.00,296.27 L623.50,296.39 L624.00,296.51 L624.50,296.62 L625.00,296.74 L625.50,296.85 L626.00,296.96 L626.50,297.07 L627.00,297.18 L627.50,297.29 L628.00,297.39 L628.50,297.50 L629.00,297.60 L629.50,297.71 L630.00,297.81 L630.50,297.91 L631.00,298.01 L631.50,298.11 L632.00,298.21 L632.50,298.30 L633.00,298.40 L633.50,298.50 L634.00,298.59 L634.50,298.69 L635.00,298.78 L635.50,298.88 L636.00,298.97 L636.50,299.07 L637.00,299.16 L637.50,299.25 L638.00,299.35 L638.50,299.44 L639.00,299.53 L639.50,299.61 L640.00,299.70 L640.50,299.79 L641.00,299.87 L641.50,299.95 L642.00,300.03 L642.50,300.11 L643.00,300.19 L643.50,300.26 L644.00,300.34 L644.50,300.41 L645.00,300.47 L645.50,300.54 L646.00,300.60 L646.50,300.66 L647.00,300.72 L647.50,300.78 L648.00,300.83 L648.50,300.89 L649.00,300.95 L649.50,301.00 L650.00,301.05 L650.50,301.11 L651.00,301.16 L651.50,301.21 L652.00,301.26 L652.50,301.31 L653.00,301.36 L653.50,301.40 L654.00,301.45 L654.50,301.50 L655.00,301.54 L655.50,301.59 L656.00,301.63 L656.50,301.68 L657.00,301.72 L657.50,301.76 L658.00,301.81 L658.50,301.85 L659.00,301.89 L659.50,301.93 L660.00,301.97 L660.50,302.01 L661.00,302.05 L661.50,302.10 L662.00,302.14 L662.50,302.17 L663.00,302.21 L663.50,302.25 L664.00,302.29 L664.50,302.33 L665.00,302.37 L665.50,302.41 L666.00,302.45 L666.50,302.49 L667.00,302.53 L667.50,302.56 L668.00,302.60 L668.50,302.64 L669.00,302.68 L669.50,302.72 L670.00,302.76 L670.50,302.80 L671.00,302.84 L671.50,302.88 L672.00,302.92 L672.50,302.96 L673.00,303.00 L673.50,303.04 L674.00,303.08 L674.50,303.13 L675.00,303.17 L675.50,303.21 L676.00,303.26 L676.50,303.30" stroke="#f00"/><path d="M490.50,301.20 L491.00,301.24 L491.51,301.28 L492.01,301.31 L492.52,301.35 L493.02,301.39 L493.52,301.43 L494.03,301.46 L494.53,301.50 L495.03,301.54 L495.54,301.57 L496.04,301.61 L496.55,301.65 L497.05,301.69 L497.55,301.72 L498.06,301.76 L498.56,301.80 L499.07,301.84 L499.57,301.88 L500.07,301.91 L500.58,301.95 L501.08,301.99 L501.58,302.03 L502.09,302.07 L502.59,302.12 L503.10,302.16 L503.60,302.20 L504.10,302.24 L504.61,302.29 L505.11,302.34 L505.61,302.39 L506.12,302.45 L506.62,302.50 L507.12,302.56 L507.63,302.62 L508.13,302.68 L508.63,302.74 L509.14,302.80 L509.64,302.86 L510.14,302.92 L510.65,302.98 L511.15,303.04 L511.66,303.10 L512.16,303.15 L512.66,303.21 L513.17,303.26 L513.67,303.31 L514.17,303.36 L514.68,303.40 L515.18,303.44 L515.68,303.48 L516.19,303.51 L516.69,303.54 L517.19,303.57 L517.70,303.59 L518.20,303.60 L518.70,303.61 L519.21,303.62 L519.71,303.64 L520.21,303.65 L520.72,303.66 L521.22,303.67 L521.72,303.68 L522.23,303.69 L522.73,303.70 L523.23,303.71 L523.74,303.72 L524.24,303.72 L524.74,303.73 L525.25,303.74 L525.75,303.75 L526.26,303.75 L526.76,303.76 L527.26,303.77 L527.77,303.77 L528.27,303.78 L528.77,303.78 L529.28,303.79 L529.78,303.79 L530.28,303.79 L530.79,303.80 L531.29,303.80 L531.79,303.80 L532.30,303.80 L532.80,303.80 L533.31,303.79 L533.82,303.78 L534.33,303.75 L534.83,303.72 L535.34,303.67 L535.85,303.62 L536.36,303.56 L536.87,303.49 L537.38,303.42 L537.89,303.34 L538.40,303.25 L538.90,303.16 L539.41,303.06 L539.92,302.96 L540.43,302.85 L540.94,302.74 L541.45,302.63 L541.96,302.51 L542.47,302.39 L542.97,302.27 L543.48,302.15 L543.99,302.02 L544.50,301.90 L545.01,301.77 L545.52,301.62 L546.03,301.46 L546.54,301.28 L547.05,301.09 L547.56,300.89 L548.07,300.68 L548.58,300.46 L549.09,300.22 L549.60,299.98 L550.11,299.73 L550.62,299.47 L551.13,299.20 L551.64,298.93 L552.15,298.65 L552.66,298.37 L553.17,298.08 L553.68,297.79 L554.19,297.49 L554.70,297.20 L555.22,296.89 L555.74,296.57 L556.26,296.24 L556.79,295.90 L557.31,295.54 L557.83,295.17 L558.35,294.79 L558.87,294.39 L559.39,293.98 L559.91,293.56 L560.44,293.12 L560.96,292.66 L561.48,292.19 L562.00,291.70 L562.53,291.19 L563.05,290.66 L563.58,290.11 L564.11,289.53 L564.64,288.92 L565.16,288.28 L565.69,287.59 L566.22,286.87 L566.75,286.10 L567.27,285.28 L567.80,284.40 L568.38,283.35 L568.96,282.16 L569.54,280.80 L570.12,279.22 L570.70,277.40 L571.20,275.36 L571.70,272.75 L572.20,269.80 L572.70,266.71 L573.20,263.70 L573.75,260.50 L574.30,257.00 L574.82,253.08 L575.34,248.69 L575.86,244.09 L576.38,239.56 L576.90,235.40 L577.42,231.60 L577.94,227.98 L578.46,224.47 L578.98,221.06 L579.50,217.70 L580.08,213.88 L580.66,210.03 L581.24,206.31 L581.82,202.90 L582.40,200.00 L582.90,197.70 L583.40,195.35 L583.90,193.02 L584.40,190.81 L584.90,188.81 L585.40,187.10 L585.90,185.77 L586.40,184.91 L586.90,184.60 L587.43,185.01 L587.97,186.13 L588.50,187.75 L589.03,189.70 L589.57,191.78 L590.10,193.80 L590.62,195.88 L591.14,198.28 L591.66,200.87 L592.18,203.55 L592.70,206.20 L593.27,209.08 L593.83,212.03 L594.40,215.00 L594.94,217.85 L595.48,220.74 L596.02,223.62 L596.56,226.45 L597.10,229.20 L597.62,231.77 L598.14,234.31 L598.66,236.79 L599.18,239.19 L599.70,241.50 L600.26,243.94 L600.81,246.38 L601.37,248.79 L601.93,251.10 L602.49,253.27 L603.04,255.25 L603.60,257.00 L604.11,258.42 L604.62,259.72 L605.14,260.92 L605.65,262.05 L606.16,263.13 L606.68,264.18 L607.19,265.23 L607.70,266.30 L608.25,267.46 L608.80,268.61 L609.35,269.75 L609.90,270.86 L610.45,271.95 L611.00,273.01 L611.55,274.03 L612.10,275.00 L612.66,275.96 L613.21,276.89 L613.77,277.80 L614.33,278.68 L614.89,279.51 L615.44,280.28 L616.00,281.00 L616.52,281.63 L617.05,282.25 L617.57,282.86 L618.09,283.45 L618.62,284.02 L619.14,284.58 L619.66,285.13 L620.19,285.66 L620.71,286.17 L621.24,286.66 L621.76,287.14 L622.28,287.59 L622.81,288.03 L623.33,288.45 L623.85,288.86 L624.38,289.24 L624.90,289.60 L625.41,289.93 L625.91,290.26 L626.42,290.57 L626.92,290.87 L627.43,291.16 L627.94,291.44 L628.44,291.71 L628.95,291.97 L629.46,292.22 L629.96,292.47 L630.47,292.71 L630.98,292.94 L631.48,293.16 L631.99,293.38 L632.49,293.59 L633.00,293.80 L633.50,294.00 L634.00,294.20 L634.50,294.40 L635.00,294.59 L635.50,294.79 L636.00,294.98 L636.50,295.17 L637.00,295.35 L637.50,295.53 L638.00,295.71 L638.50,295.89 L639.00,296.06 L639.50,296.23 L640.00,296.39 L640.50,296.55 L641.00,296.71 L641.50,296.86 L642.00,297.01 L642.50,297.15 L643.00,297.29 L643.50,297.42 L644.00,297.55 L644.50,297.67 L645.00,297.78 L645.50,297.89 L646.00,298.00 L646.50,298.10 L647.00,298.20 L647.50,298.30 L648.00,298.39 L648.50,298.48 L649.00,298.58 L649.50,298.66 L650.00,298.75 L650.50,298.84 L651.00,298.92 L651.50,299.00 L652.00,299.08 L652.50,299.16 L653.00,299.24 L653.50,299.32 L654.00,299.39 L654.50,299.46 L655.00,299.54 L655.50,299.61 L656.00,299.68 L656.50,299.75 L657.00,299.81 L657.50,299.88 L658.00,299.95 L658.50,300.01 L659.00,300.07 L659.50,300.14 L660.00,300.20 L660.50,300.26 L661.00,300.32 L661.50,300.38 L662.00,300.44 L662.50,300.50 L663.00,300.56 L663.50,300.62 L664.00,300.68 L664.50,300.74 L665.00,300.80 L665.50,300.85 L666.00,300.91 L666.50,300.97 L667.00,301.03 L667.50,301.08 L668.00,301.14 L668.50,301.20 L669.00,301.26 L669.50,301.32 L670.00,301.38 L670.50,301.44 L671.00,301.50 L671.50,301.56 L672.00,301.62 L672.50,301.68 L673.00,301.74 L673.50,301.80 L674.00,301.87 L674.50,301.93 L675.00,302.00 L675.50,302.06 L676.00,302.13 L676.50,302.20" stroke="#00f"/><path d="M490.50,302.60 L491.00,302.63 L491.51,302.66 L492.01,302.69 L492.52,302.73 L493.02,302.76 L493.52,302.79 L494.03,302.82 L494.53,302.85 L495.03,302.89 L495.54,302.92 L496.04,302.95 L496.55,302.98 L497.05,303.01 L497.55,303.05 L498.06,303.08 L498.56,303.11 L499.07,303.14 L499.57,303.17 L500.07,303.20 L500.58,303.23 L501.08,303.26 L501.58,303.29 L502.09,303.32 L502.59,303.35 L503.10,303.37 L503.60,303.40 L504.11,303.43 L504.62,303.46 L505.13,303.48 L505.64,303.51 L506.15,303.54 L506.66,303.57 L507.17,303.60 L507.67,303.63 L508.18,303.66 L508.69,303.70 L509.20,303.73 L509.71,303.76 L510.22,303.79 L510.73,303.82 L511.24,303.85 L511.75,303.88 L512.26,303.91 L512.77,303.94 L513.28,303.97 L513.79,304.00 L514.30,304.03 L514.80,304.06 L515.31,304.09 L515.82,304.11 L516.33,304.14 L516.84,304.16 L517.35,304.19 L517.86,304.21 L518.37,304.23 L518.88,304.25 L519.39,304.27 L519.90,304.29 L520.41,304.31 L520.92,304.33 L521.43,304.34 L521.93,304.35 L522.44,304.37 L522.95,304.38 L523.46,304.38 L523.97,304.39 L524.48,304.40 L524.99,304.40 L525.50,304.40 L526.00,304.40 L526.51,304.39 L527.01,304.38 L527.51,304.37 L528.02,304.36 L528.52,304.34 L529.02,304.32 L529.53,304.30 L530.03,304.27 L530.53,304.24 L531.04,304.21 L531.54,304.18 L532.04,304.14 L532.55,304.11 L533.05,304.07 L533.56,304.03 L534.06,303.99 L534.56,303.94 L535.07,303.90 L535.57,303.85 L536.07,303.80 L536.58,303.76 L537.08,303.71 L537.58,303.66 L538.09,303.61 L538.59,303.55 L539.09,303.50 L539.60,303.45 L540.10,303.40 L540.60,303.35 L541.11,303.28 L541.61,303.22 L542.11,303.14 L542.62,303.07 L543.12,302.98 L543.62,302.90 L544.13,302.80 L544.63,302.71 L545.13,302.61 L545.64,302.51 L546.14,302.40 L546.64,302.29 L547.15,302.18 L547.65,302.06 L548.16,301.95 L548.66,301.83 L549.16,301.71 L549.67,301.59 L550.17,301.47 L550.67,301.35 L551.18,301.23 L551.68,301.11 L552.18,300.99 L552.69,300.87 L553.19,300.75 L553.69,300.63 L554.20,300.51 L554.70,300.40 L555.20,300.29 L555.71,300.17 L556.21,300.06 L556.71,299.95 L557.22,299.84 L557.72,299.72 L558.22,299.61 L558.73,299.49 L559.23,299.38 L559.73,299.26 L560.24,299.15 L560.74,299.03 L561.24,298.91 L561.75,298.79 L562.25,298.67 L562.76,298.55 L563.26,298.43 L563.76,298.30 L564.27,298.18 L564.77,298.05 L565.27,297.92 L565.78,297.79 L566.28,297.65 L566.78,297.52 L567.29,297.38 L567.79,297.24 L568.29,297.09 L568.80,296.95 L569.30,296.80 L569.81,296.64 L570.32,296.48 L570.83,296.31 L571.34,296.13 L571.85,295.94 L572.36,295.75 L572.87,295.55 L573.38,295.36 L573.89,295.16 L574.40,294.96 L574.91,294.75 L575.42,294.55 L575.93,294.36 L576.44,294.16 L576.95,293.97 L577.46,293.78 L577.97,293.60 L578.48,293.43 L578.99,293.26 L579.50,293.10 L580.00,292.96 L580.50,292.82 L581.00,292.69 L581.50,292.57 L582.00,292.44 L582.50,292.32 L583.00,292.19 L583.50,292.05 L584.00,291.90 L584.50,291.75 L585.00,291.59 L585.50,291.44 L586.00,291.27 L586.50,291.07 L587.00,290.85 L587.50,290.60 L588.08,290.20 L588.66,289.68 L589.24,289.06 L589.82,288.39 L590.40,287.70 L590.90,287.09 L591.40,286.44 L591.90,285.76 L592.40,285.02 L592.90,284.24 L593.40,283.40 L593.90,282.50 L594.45,281.38 L595.00,280.11 L595.55,278.73 L596.10,277.27 L596.65,275.78 L597.20,274.30 L597.73,272.87 L598.27,271.42 L598.80,269.94 L599.33,268.44 L599.87,266.91 L600.40,265.35 L600.93,263.77 L601.47,262.15 L602.00,260.50 L602.50,258.94 L603.00,257.36 L603.50,255.74 L604.00,254.06 L604.50,252.28 L605.00,250.40 L605.54,248.16 L606.08,245.71 L606.62,243.14 L607.16,240.54 L607.70,238.00 L608.24,235.51 L608.78,233.00 L609.32,230.51 L609.86,228.03 L610.40,225.60 L610.96,223.11 L611.52,220.64 L612.08,218.21 L612.64,215.82 L613.20,213.50 L613.72,211.42 L614.23,209.38 L614.75,207.38 L615.27,205.41 L615.78,203.45 L616.30,201.50 L616.84,199.40 L617.38,197.26 L617.92,195.17 L618.46,193.21 L619.00,191.50 L619.52,189.95 L620.04,188.40 L620.56,187.02 L621.08,185.93 L621.60,185.30 L622.15,184.95 L622.70,184.66 L623.25,184.47 L623.80,184.40 L624.34,184.49 L624.88,184.75 L625.42,185.13 L625.96,185.63 L626.50,186.20 L627.00,187.08 L627.50,188.50 L628.00,190.27 L628.50,192.20 L629.00,194.10 L629.53,196.19 L630.07,198.49 L630.60,200.92 L631.13,203.41 L631.67,205.86 L632.20,208.20 L632.70,210.30 L633.20,212.36 L633.70,214.40 L634.20,216.42 L634.70,218.42 L635.20,220.41 L635.70,222.40 L636.20,224.38 L636.70,226.35 L637.20,228.31 L637.70,230.26 L638.20,232.19 L638.70,234.10 L639.20,236.00 L639.71,237.96 L640.23,239.93 L640.74,241.89 L641.26,243.82 L641.77,245.70 L642.29,247.50 L642.80,249.20 L643.35,250.95 L643.90,252.67 L644.45,254.35 L645.00,255.97 L645.55,257.52 L646.10,258.99 L646.65,260.35 L647.20,261.60 L647.72,262.69 L648.23,263.75 L648.75,264.77 L649.27,265.74 L649.78,266.68 L650.30,267.58 L650.82,268.44 L651.33,269.27 L651.85,270.05 L652.37,270.80 L652.88,271.52 L653.40,272.20 L653.92,272.86 L654.45,273.50 L654.97,274.12 L655.49,274.72 L656.02,275.31 L656.54,275.87 L657.06,276.42 L657.59,276.95 L658.11,277.47 L658.64,277.97 L659.16,278.45 L659.68,278.92 L660.21,279.38 L660.73,279.83 L661.25,280.26 L661.78,280.69 L662.30,281.10 L662.81,281.49 L663.31,281.87 L663.82,282.24 L664.33,282.59 L664.84,282.94 L665.34,283.29 L665.85,283.62 L666.36,283.94 L666.86,284.26 L667.37,284.58 L667.88,284.89 L668.39,285.19 L668.89,285.49 L669.40,285.78 L669.91,286.08 L670.41,286.37 L670.92,286.66 L671.43,286.94 L671.94,287.23 L672.44,287.52 L672.95,287.81 L673.46,288.10 L673.96,288.39 L674.47,288.68 L674.98,288.98 L675.49,289.28 L675.99,289.59 L676.50,289.90" stroke="#f0f"/></g><rect x="491.90" y="172.20" width="184.30" height="134.80" fill="none" stroke="#000" stroke-width="1.9"/><line x1="488.70" y1="307.00" x2="491.90" y2="307.00" stroke="#000" stroke-width="1.6"/><text x="487.30" y="310.20" font-size="9" font-weight="bold" text-anchor="end">0.0</text><line x1="490.00" y1="294.74" x2="491.90" y2="294.74" stroke="#000" stroke-width="1.5"/><line x1="488.70" y1="282.48" x2="491.90" y2="282.48" stroke="#000" stroke-width="1.6"/><text x="487.30" y="285.68" font-size="9" font-weight="bold" text-anchor="end">0.2</text><line x1="490.00" y1="270.22" x2="491.90" y2="270.22" stroke="#000" stroke-width="1.5"/><line x1="488.70" y1="257.96" x2="491.90" y2="257.96" stroke="#000" stroke-width="1.6"/><text x="487.30" y="261.16" font-size="9" font-weight="bold" text-anchor="end">0.4</text><line x1="490.00" y1="245.70" x2="491.90" y2="245.70" stroke="#000" stroke-width="1.5"/><line x1="488.70" y1="233.44" x2="491.90" y2="233.44" stroke="#000" stroke-width="1.6"/><text x="487.30" y="236.64" font-size="9" font-weight="bold" text-anchor="end">0.6</text><line x1="490.00" y1="221.18" x2="491.90" y2="221.18" stroke="#000" stroke-width="1.5"/><line x1="488.70" y1="208.92" x2="491.90" y2="208.92" stroke="#000" stroke-width="1.6"/><text x="487.30" y="212.12" font-size="9" font-weight="bold" text-anchor="end">0.8</text><line x1="490.00" y1="196.66" x2="491.90" y2="196.66" stroke="#000" stroke-width="1.5"/><line x1="488.70" y1="184.40" x2="491.90" y2="184.40" stroke="#000" stroke-width="1.6"/><text x="487.30" y="187.60" font-size="9" font-weight="bold" text-anchor="end">1.0</text><line x1="491.90" y1="307.00" x2="491.90" y2="310.20" stroke="#000" stroke-width="1.6"/><text x="492.10" y="319.20" font-size="9" font-weight="bold" text-anchor="middle">400</text><line x1="514.94" y1="307.00" x2="514.94" y2="308.90" stroke="#000" stroke-width="1.5"/><line x1="537.98" y1="307.00" x2="537.98" y2="310.20" stroke="#000" stroke-width="1.6"/><text x="538.18" y="319.20" font-size="9" font-weight="bold" text-anchor="middle">500</text><line x1="561.01" y1="307.00" x2="561.01" y2="308.90" stroke="#000" stroke-width="1.5"/><line x1="584.05" y1="307.00" x2="584.05" y2="310.20" stroke="#000" stroke-width="1.6"/><text x="584.25" y="319.20" font-size="9" font-weight="bold" text-anchor="middle">600</text><line x1="607.09" y1="307.00" x2="607.09" y2="308.90" stroke="#000" stroke-width="1.5"/><line x1="630.12" y1="307.00" x2="630.12" y2="310.20" stroke="#000" stroke-width="1.6"/><text x="630.33" y="319.20" font-size="9" font-weight="bold" text-anchor="middle">700</text><line x1="653.16" y1="307.00" x2="653.16" y2="308.90" stroke="#000" stroke-width="1.5"/><line x1="676.20" y1="307.00" x2="676.20" y2="310.20" stroke="#000" stroke-width="1.6"/><text x="676.40" y="319.20" font-size="9" font-weight="bold" text-anchor="middle">800</text><text x="584.05" y="336.6" font-size="10.4" font-weight="bold" text-anchor="middle">Wavelength (nm)</text><text transform="translate(465.70,239.2) rotate(-90)" font-size="10.5" font-weight="bold" text-anchor="middle">Normalized scattering</text><line x1="493.70" y1="177.40" x2="513.50" y2="177.40" stroke="#000" stroke-width="1.7"/><text x="515.40" y="180.00" font-size="8.6" font-weight="bold">n<tspan font-size="5" dx="0.5" dy="3.2">2</tspan><tspan dx="0.3" dy="-3.2">=1.0</tspan></text><line x1="493.70" y1="190.80" x2="513.50" y2="190.80" stroke="#f00" stroke-width="1.7"/><text x="515.40" y="193.40" font-size="8.6" font-weight="bold">n<tspan font-size="5" dx="0.5" dy="3.2">2</tspan><tspan dx="0.3" dy="-3.2">=1.5</tspan></text><line x1="493.70" y1="204.20" x2="513.50" y2="204.20" stroke="#00f" stroke-width="1.7"/><text x="515.40" y="206.80" font-size="8.6" font-weight="bold">n<tspan font-size="5" dx="0.5" dy="3.2">2</tspan><tspan dx="0.3" dy="-3.2">=2.0</tspan></text><line x1="493.70" y1="217.60" x2="513.50" y2="217.60" stroke="#f0f" stroke-width="1.7"/><text x="515.40" y="220.20" font-size="8.6" font-weight="bold">n<tspan font-size="5" dx="0.5" dy="3.2">2</tspan><tspan dx="0.3" dy="-3.2">=2.5</tspan></text><text x="494.80" y="234.20" font-size="8.6" font-weight="bold">n<tspan font-size="5" dx="0.5" dy="3.2">1</tspan><tspan dx="0.3" dy="-3.2">=1.0</tspan></text><text x="0.20" y="18.00" font-size="24" font-weight="bold">a</text><text x="226.60" y="18.00" font-size="24" font-weight="bold">b</text><text x="456.60" y="18.00" font-size="24" font-weight="bold">c</text><text x="0.00" y="171.00" font-size="24" font-weight="bold">d</text><text x="226.80" y="171.00" font-size="24" font-weight="bold">e</text><text x="458.50" y="170.70" font-size="24" font-weight="bold">f</text>
</svg></body></html>
